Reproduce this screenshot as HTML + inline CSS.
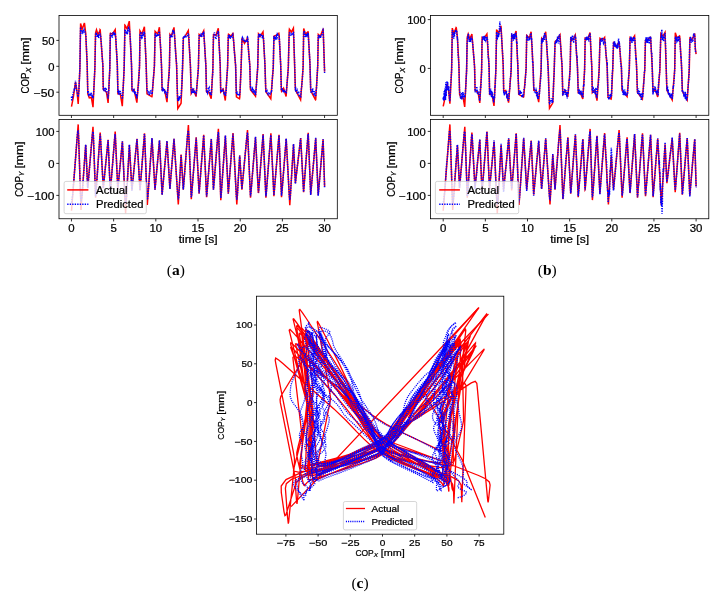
<!DOCTYPE html>
<html><head><meta charset="utf-8"><style>
html,body{margin:0;padding:0;background:#fff;width:726px;height:594px;overflow:hidden;}
body{position:relative;font-family:"Liberation Sans",sans-serif;}
svg{will-change:transform;}
text{stroke:#000;stroke-width:0.22px;}
</style></head><body>
<svg width='726' height='594' viewBox='0 0 726 594' font-family="Liberation Sans, sans-serif" style='position:absolute;left:0;top:0'>
<clipPath id='a1'><rect x='59.0' y='15.55' width='278.30' height='99.75'/></clipPath>
<clipPath id='a2'><rect x='59.0' y='119.4' width='278.30' height='99.35'/></clipPath>
<g clip-path='url(#a1)' fill='none' stroke-width='1.5'>
<path d='M71.5 106.6 L73.3 97.3 L75.5 82.2 L76.9 90.8 L78.2 103.9 L79.9 68.3 L80.6 23.5 L82.1 29.3 L84.4 23.1 L84.4 23.0 L84.5 23.3 L85.7 33.4 L87.1 62.9 L87.8 93.9 L89.3 97.8 L91.3 97.4 L91.4 97.6 L93.0 107.1 L94.9 68.2 L95.5 34.1 L95.7 32.5 L96.5 29.8 L98.1 35.0 L100.1 30.0 L100.1 29.8 L100.2 29.9 L102.8 64.5 L103.3 89.5 L104.9 90.7 L106.5 92.3 L108.1 103.0 L109.8 68.5 L110.3 33.4 L110.4 33.2 L112.4 34.1 L115.2 29.7 L117.3 64.6 L117.9 93.6 L117.9 93.8 L120.3 93.8 L122.3 106.1 L124.2 67.1 L124.9 25.5 L124.9 25.2 L125.0 25.3 L127.1 28.8 L129.3 21.1 L131.5 63.8 L132.0 90.4 L132.1 90.6 L134.0 89.7 L136.9 102.7 L139.5 67.5 L140.0 30.9 L142.0 34.1 L144.4 26.7 L146.2 65.5 L147.0 93.8 L151.9 96.8 L152.0 96.6 L154.4 66.6 L155.1 31.3 L157.7 34.1 L159.4 27.3 L161.5 65.0 L162.1 89.5 L164.5 89.7 L167.0 102.1 L169.4 67.5 L170.0 34.5 L171.2 36.1 L171.3 36.0 L174.0 27.4 L176.6 65.9 L177.8 108.5 L181.0 103.4 L181.1 102.6 L182.6 68.1 L183.4 37.8 L185.2 36.2 L188.3 30.7 L190.4 65.6 L191.2 93.5 L193.4 89.7 L196.1 96.6 L198.4 67.5 L199.2 34.4 L201.0 36.2 L203.7 30.8 L205.9 65.9 L206.5 91.5 L206.7 92.1 L208.6 91.7 L211.2 98.7 L212.9 68.0 L213.5 34.4 L213.6 34.3 L215.9 35.2 L216.1 35.1 L218.3 28.3 L220.2 64.8 L220.7 92.0 L223.2 89.2 L225.3 100.5 L227.6 66.8 L228.3 35.4 L228.5 34.3 L231.1 36.2 L232.8 33.4 L232.9 33.3 L233.0 33.5 L235.6 65.9 L236.4 96.8 L239.5 98.8 L239.8 97.1 L241.1 67.6 L242.0 38.1 L244.5 43.4 L247.4 38.1 L247.4 38.0 L247.5 38.1 L249.8 65.0 L250.4 89.1 L250.6 89.9 L255.5 96.2 L257.7 67.6 L258.5 33.9 L260.3 36.2 L263.0 31.8 L265.0 65.2 L265.8 91.5 L266.0 92.0 L270.8 98.8 L273.3 66.9 L273.9 36.5 L274.1 36.2 L276.3 35.2 L278.8 33.3 L279.1 34.8 L280.7 64.6 L281.4 90.9 L281.6 91.4 L283.6 88.2 L286.1 96.5 L288.3 67.4 L289.2 30.8 L289.4 29.2 L291.4 32.0 L293.4 28.2 L295.4 89.7 L300.6 99.8 L303.1 67.8 L303.7 28.5 L305.5 34.1 L308.0 31.8 L308.2 32.0 L310.0 65.1 L310.7 89.8 L310.9 91.0 L315.5 99.7 L315.6 99.8 L315.7 99.6 L317.7 66.9 L318.3 34.4 L320.3 36.2 L323.0 29.4 L323.1 29.3 L323.2 29.8 L324.6 71.6' stroke='#ff0000'/>
<path d='M71.5 96.6 L71.6 99.0 L71.7 99.5 L71.8 99.7 L71.9 99.6 L72.2 96.0 L72.3 95.8 L72.5 97.0 L72.6 96.8 L73.1 93.6 L73.6 91.3 L73.9 91.1 L74.2 89.9 L74.4 90.3 L74.6 90.1 L75.5 80.8 L76.8 91.3 L77.0 91.7 L77.5 93.8 L78.0 96.8 L78.1 96.9 L78.2 96.5 L78.9 90.9 L79.9 67.7 L80.4 33.2 L80.6 27.1 L81.1 32.1 L81.3 32.2 L81.6 33.2 L81.9 31.2 L82.2 30.7 L82.2 30.6 L82.3 30.8 L82.6 32.1 L82.8 31.5 L83.1 31.9 L83.4 30.5 L83.7 31.7 L84.1 29.9 L84.7 31.9 L85.2 31.9 L85.5 34.2 L85.9 35.1 L87.2 64.0 L87.8 93.3 L88.2 90.9 L88.7 94.4 L89.1 93.6 L90.0 96.1 L90.3 94.4 L90.9 95.6 L91.4 94.4 L91.6 95.2 L91.9 95.3 L92.1 96.2 L92.4 95.9 L92.6 96.4 L93.0 98.4 L93.6 93.6 L94.9 67.0 L95.6 34.2 L95.8 35.0 L95.9 34.9 L96.3 32.6 L96.8 35.8 L97.0 36.2 L97.2 36.2 L97.5 34.3 L97.9 36.5 L98.2 35.9 L98.7 38.2 L99.3 32.5 L99.8 35.3 L100.2 33.6 L100.6 35.4 L101.2 41.5 L102.2 57.2 L102.9 66.0 L103.3 88.6 L103.6 89.3 L103.9 88.0 L104.3 90.0 L104.5 89.8 L105.1 90.7 L105.7 87.9 L105.8 87.8 L105.9 87.9 L107.4 93.2 L108.0 98.6 L108.7 91.9 L109.8 69.7 L110.3 34.5 L110.6 34.6 L110.9 33.3 L111.3 36.8 L111.6 36.8 L111.9 36.2 L112.2 36.9 L112.4 36.9 L113.1 32.0 L113.5 33.5 L114.0 32.5 L114.4 33.7 L114.6 32.7 L114.7 32.6 L114.8 32.8 L115.3 34.6 L115.8 38.3 L117.3 63.8 L117.9 92.5 L118.0 92.9 L118.3 91.3 L118.4 91.1 L118.5 91.2 L119.0 94.8 L119.4 92.0 L119.6 91.2 L119.9 91.1 L120.1 90.5 L120.5 92.7 L120.6 92.4 L121.0 93.8 L121.3 93.8 L121.4 94.0 L122.3 99.1 L122.9 93.3 L124.1 70.6 L124.9 29.6 L124.9 29.4 L125.0 29.6 L125.6 32.1 L125.9 31.8 L126.0 32.0 L126.4 34.2 L127.0 31.0 L127.4 34.5 L127.7 30.8 L127.8 30.5 L128.0 30.7 L128.1 30.4 L128.5 26.5 L129.1 29.1 L129.2 29.4 L129.3 29.2 L129.4 29.3 L130.3 38.0 L131.6 67.1 L132.0 90.0 L132.2 89.9 L132.9 91.1 L133.2 89.8 L133.5 90.2 L133.9 89.6 L134.3 90.6 L134.7 93.8 L135.2 91.6 L135.6 94.6 L135.9 93.4 L136.3 96.6 L136.6 96.2 L136.9 98.3 L138.3 85.9 L138.6 84.4 L139.6 63.2 L140.0 36.1 L140.0 35.3 L140.2 35.4 L140.3 35.1 L140.8 31.7 L141.5 37.2 L141.8 36.5 L142.2 38.3 L142.8 32.5 L143.4 34.6 L143.8 33.7 L144.3 31.8 L144.4 32.2 L145.0 38.1 L146.0 61.8 L146.9 89.5 L147.0 89.9 L147.2 89.7 L147.3 89.9 L147.8 93.5 L148.1 92.3 L148.5 92.1 L148.8 90.6 L149.3 95.6 L149.6 93.6 L149.7 93.4 L150.0 93.9 L150.6 90.9 L150.8 90.9 L151.1 92.2 L151.8 93.1 L152.0 94.2 L152.2 93.0 L154.4 65.8 L155.1 34.1 L155.4 33.1 L155.9 36.9 L156.1 36.8 L156.3 35.6 L156.6 35.9 L156.7 35.8 L157.0 34.4 L157.3 36.0 L158.0 35.0 L158.4 36.3 L159.0 31.2 L159.4 32.0 L159.8 36.8 L160.0 37.7 L160.8 50.1 L161.6 70.1 L162.1 91.2 L162.2 91.5 L162.4 91.0 L162.9 87.7 L163.5 89.5 L163.8 88.6 L164.0 88.6 L164.7 91.9 L165.4 90.3 L165.9 93.4 L166.2 92.3 L167.0 98.4 L169.2 72.5 L169.5 64.0 L170.0 35.4 L170.2 34.6 L170.5 35.8 L170.9 36.3 L171.3 37.6 L171.7 36.5 L172.0 37.7 L172.5 32.3 L172.8 31.3 L173.0 31.7 L173.5 31.3 L173.8 32.2 L174.0 31.5 L174.1 31.7 L174.8 38.7 L175.7 54.4 L176.6 63.8 L177.2 87.2 L177.7 99.8 L177.8 100.7 L178.0 100.1 L178.3 101.3 L178.8 98.6 L179.1 99.2 L179.2 99.0 L179.6 96.1 L180.1 99.0 L180.7 97.1 L181.0 97.2 L181.1 95.8 L182.0 82.4 L183.3 38.2 L183.4 37.8 L183.8 38.3 L184.3 36.7 L184.5 36.7 L184.8 37.3 L185.1 36.3 L185.9 37.8 L186.5 35.5 L187.0 35.8 L187.5 35.5 L187.9 33.1 L188.1 34.0 L188.4 33.7 L188.5 33.8 L188.8 36.0 L190.5 67.6 L191.1 90.6 L191.6 92.0 L191.9 90.4 L192.2 90.7 L192.5 89.9 L193.1 92.9 L193.7 88.6 L194.2 91.4 L194.6 90.6 L195.0 92.6 L195.2 91.9 L195.3 92.0 L195.8 95.4 L196.3 92.8 L196.8 87.5 L198.4 67.7 L199.1 36.1 L199.5 34.5 L200.0 35.0 L200.4 36.5 L200.8 35.3 L201.1 36.5 L201.4 35.6 L201.7 37.4 L202.2 33.3 L202.6 34.6 L202.9 34.2 L203.1 34.5 L203.7 31.6 L205.9 66.1 L206.5 90.9 L206.9 92.5 L206.9 92.6 L207.2 92.1 L207.5 92.9 L208.5 87.8 L208.8 88.6 L209.2 87.8 L209.9 93.4 L210.0 93.6 L210.2 92.7 L210.6 94.2 L210.8 93.5 L211.2 95.7 L211.5 92.7 L212.2 79.5 L212.8 72.4 L213.4 37.8 L214.4 32.4 L215.3 35.9 L215.7 38.9 L215.9 39.1 L216.4 37.0 L216.8 36.3 L217.3 33.7 L217.4 33.5 L217.7 33.6 L217.7 33.4 L218.2 30.9 L218.4 32.1 L218.9 39.2 L220.2 64.1 L220.7 90.4 L221.0 92.2 L221.5 89.9 L221.9 92.0 L222.4 88.7 L222.9 91.4 L223.2 89.8 L223.4 90.8 L223.7 91.2 L224.2 94.7 L224.8 91.9 L224.8 91.8 L224.9 92.0 L225.4 96.1 L226.2 91.1 L226.8 78.1 L227.5 69.0 L228.2 39.4 L228.3 37.2 L228.8 34.8 L229.2 37.8 L229.6 36.9 L230.1 38.9 L230.6 36.1 L231.0 37.3 L231.2 36.5 L231.3 36.4 L231.6 36.6 L232.7 34.6 L233.2 39.2 L233.4 39.7 L233.7 41.4 L234.3 51.6 L235.6 65.0 L236.3 92.9 L236.4 93.7 L236.7 94.2 L237.3 91.5 L237.7 94.2 L237.7 94.5 L238.3 94.8 L238.5 95.5 L238.9 93.6 L239.2 94.5 L239.4 94.3 L239.6 94.6 L239.7 94.4 L240.1 90.7 L241.2 64.2 L241.9 40.4 L242.0 38.3 L242.3 37.6 L243.0 40.4 L243.5 37.8 L244.2 41.6 L244.6 41.3 L245.0 42.4 L245.4 41.6 L245.8 41.5 L246.4 39.9 L246.8 40.0 L247.1 41.7 L247.5 37.5 L247.6 37.2 L247.7 37.4 L248.5 51.0 L249.9 66.5 L250.5 88.4 L250.8 87.7 L251.5 90.8 L251.8 89.7 L252.3 88.8 L252.3 89.0 L252.9 92.7 L253.4 89.0 L253.6 90.0 L253.9 90.4 L254.4 93.0 L254.8 90.7 L255.5 95.3 L256.1 90.2 L257.7 67.6 L258.4 37.4 L258.8 34.0 L259.4 35.9 L259.7 35.5 L259.8 35.7 L260.0 37.2 L260.4 34.0 L260.6 33.9 L261.4 35.4 L261.6 35.4 L262.0 35.7 L262.4 38.2 L262.8 35.6 L263.1 35.0 L263.1 35.3 L263.6 39.2 L264.8 61.6 L265.8 91.1 L266.1 92.6 L266.3 91.3 L266.4 91.1 L266.7 91.8 L267.0 90.9 L267.8 93.6 L268.0 93.4 L268.1 93.6 L268.5 95.4 L269.0 93.0 L269.2 93.0 L269.5 92.2 L270.0 95.0 L270.5 93.1 L270.6 92.9 L270.9 93.2 L271.3 90.8 L271.5 91.2 L271.6 91.0 L272.6 74.8 L273.0 72.1 L273.2 69.3 L273.9 36.1 L274.7 38.2 L275.0 36.6 L275.5 38.2 L276.3 36.3 L276.9 39.5 L277.4 34.5 L277.7 35.1 L277.9 34.6 L278.2 36.2 L278.5 35.9 L279.0 36.2 L279.3 37.2 L280.7 65.0 L281.4 90.5 L282.1 87.8 L282.6 91.3 L283.0 90.2 L283.2 90.8 L283.6 89.2 L283.9 89.9 L284.2 92.2 L284.7 91.2 L285.0 91.1 L285.2 90.5 L285.6 93.0 L285.9 92.2 L286.2 92.5 L286.3 92.2 L288.3 68.6 L289.0 39.4 L289.3 34.5 L289.5 33.0 L290.0 33.0 L290.3 35.5 L290.6 34.6 L290.9 34.9 L291.0 34.7 L291.5 33.0 L291.8 34.2 L292.8 32.8 L293.1 33.7 L293.5 31.8 L293.8 37.6 L294.6 61.6 L295.3 88.7 L295.4 89.3 L295.7 88.5 L296.2 91.2 L296.5 91.8 L297.0 90.6 L297.3 93.1 L297.6 93.9 L298.1 91.9 L298.3 92.7 L298.6 92.2 L298.7 92.2 L299.2 96.8 L299.8 94.9 L300.2 95.7 L300.7 96.3 L301.2 89.8 L301.6 87.5 L302.4 78.9 L303.2 64.2 L303.6 33.8 L303.7 33.4 L303.8 33.8 L303.9 33.6 L304.2 30.9 L305.0 36.1 L305.2 36.0 L305.4 36.2 L305.7 35.2 L305.9 35.6 L306.3 33.8 L306.7 35.7 L306.9 35.4 L307.3 36.6 L307.7 35.3 L307.9 32.9 L308.0 32.8 L308.1 33.3 L309.9 61.4 L310.7 90.1 L311.1 93.2 L311.4 91.9 L311.7 93.0 L312.0 91.7 L312.2 92.1 L312.2 92.0 L312.7 88.3 L313.3 93.1 L313.6 94.7 L313.8 94.0 L314.1 94.4 L314.2 94.2 L314.6 91.1 L315.3 96.7 L315.8 95.1 L316.1 90.5 L316.5 88.6 L317.7 65.7 L318.1 39.9 L318.5 35.1 L319.0 36.7 L319.4 35.0 L319.9 37.7 L320.3 35.9 L320.6 38.0 L321.1 35.0 L321.4 35.5 L321.9 34.6 L322.5 34.4 L323.0 30.4 L323.1 30.0 L323.2 30.3 L324.6 72.9' stroke='#0000ff' stroke-dasharray='1.35 1.15'/>
</g>
<g clip-path='url(#a2)' fill='none' stroke-width='1.5'>
<path d='M71.5 210.8 L78.2 124.4 L81.0 210.0 L85.6 145.5 L85.7 145.0 L85.8 146.1 L87.7 188.2 L93.0 126.9 L95.6 197.6 L100.2 132.5 L103.3 188.3 L108.1 139.9 L110.3 192.0 L115.2 131.6 L117.8 189.5 L122.4 141.5 L125.6 213.3 L129.4 145.1 L131.9 190.3 L137.0 138.8 L140.0 190.5 L144.5 133.3 L147.3 205.0 L152.0 138.2 L155.0 189.6 L159.5 140.5 L162.1 194.6 L167.0 141.3 L169.9 189.0 L174.0 138.8 L178.3 204.5 L181.1 154.6 L183.3 189.6 L188.4 125.0 L191.3 199.3 L196.2 137.3 L199.1 193.7 L203.7 134.8 L206.6 197.1 L211.3 139.0 L213.4 188.2 L213.4 189.4 L213.5 189.2 L218.4 128.9 L220.8 200.1 L225.4 135.7 L228.3 193.7 L233.0 133.1 L236.8 204.5 L239.7 155.5 L241.9 189.7 L247.5 130.0 L250.5 197.8 L255.5 137.3 L258.3 192.1 L258.4 193.0 L258.5 192.6 L263.1 134.1 L265.9 197.8 L270.9 133.2 L273.9 196.2 L279.0 134.8 L281.5 197.1 L286.2 138.8 L289.8 205.1 L293.5 144.2 L295.4 183.1 L300.7 138.1 L303.6 192.1 L308.2 132.9 L310.7 194.6 L315.7 138.3 L318.2 195.2 L323.1 139.2 L324.6 186.6' stroke='#ff0000'/>
<path d='M71.5 202.7 L72.6 195.6 L77.3 135.5 L77.8 131.7 L78.1 130.4 L78.6 136.5 L80.5 194.7 L81.0 201.8 L82.2 194.6 L85.7 144.6 L87.7 188.0 L88.9 175.9 L92.1 136.7 L92.3 135.1 L93.0 131.7 L93.4 135.3 L95.6 196.3 L96.8 182.3 L100.0 135.9 L100.2 134.4 L100.6 139.3 L103.3 188.1 L108.1 140.0 L110.3 192.4 L114.6 138.9 L114.9 135.3 L115.2 134.1 L117.8 189.6 L122.4 141.3 L124.8 195.0 L125.6 203.8 L126.6 195.9 L129.4 144.6 L131.9 190.6 L137.0 139.0 L140.0 190.5 L144.4 134.1 L144.7 136.9 L146.9 195.2 L147.3 199.9 L148.1 194.7 L152.0 138.1 L155.0 189.6 L159.5 140.3 L162.1 195.0 L167.0 140.8 L169.9 189.0 L174.0 138.8 L177.7 194.8 L178.3 199.5 L178.9 195.7 L181.1 155.1 L183.3 189.5 L185.4 164.0 L187.5 135.0 L188.3 130.5 L188.8 135.0 L191.3 197.1 L191.7 195.0 L195.5 145.5 L196.2 137.8 L199.1 193.3 L203.7 135.3 L206.6 196.3 L206.9 194.6 L211.2 139.3 L211.3 139.0 L211.3 140.2 L213.4 189.6 L214.4 179.6 L217.8 135.2 L218.4 132.1 L218.7 135.3 L220.8 198.1 L221.2 195.2 L225.4 135.5 L228.3 193.5 L232.8 135.3 L233.0 133.9 L236.3 195.6 L236.8 199.6 L237.4 195.4 L239.7 155.5 L241.9 189.3 L246.9 135.7 L247.5 132.5 L247.8 135.2 L250.5 196.3 L250.7 195.2 L251.3 188.6 L255.5 136.8 L257.6 177.5 L258.5 192.4 L263.1 134.7 L265.9 196.3 L266.2 194.9 L270.5 138.5 L270.9 135.1 L273.9 195.4 L279.0 135.4 L281.5 195.7 L282.2 189.3 L286.2 138.6 L289.2 194.5 L289.8 199.9 L290.5 194.3 L293.5 144.0 L295.4 183.8 L296.4 173.9 L299.3 150.3 L300.0 142.6 L300.6 138.3 L303.6 192.0 L307.9 135.3 L308.2 133.8 L310.7 194.9 L315.7 137.9 L318.2 195.7 L323.1 139.1 L324.6 188.1' stroke='#0000ff' stroke-dasharray='1.35 1.15'/>
</g>
<rect x='59.0' y='15.55' width='278.30' height='99.75' fill='none' stroke='#000' stroke-width='0.8'/>
<rect x='59.0' y='119.4' width='278.30' height='99.35' fill='none' stroke='#000' stroke-width='0.8'/>
<line x1='71.45' y1='115.3' x2='71.45' y2='118.0' stroke='#000' stroke-width='0.8'/>
<line x1='113.63' y1='115.3' x2='113.63' y2='118.0' stroke='#000' stroke-width='0.8'/>
<line x1='155.82' y1='115.3' x2='155.82' y2='118.0' stroke='#000' stroke-width='0.8'/>
<line x1='198.00' y1='115.3' x2='198.00' y2='118.0' stroke='#000' stroke-width='0.8'/>
<line x1='240.19' y1='115.3' x2='240.19' y2='118.0' stroke='#000' stroke-width='0.8'/>
<line x1='282.38' y1='115.3' x2='282.38' y2='118.0' stroke='#000' stroke-width='0.8'/>
<line x1='324.56' y1='115.3' x2='324.56' y2='118.0' stroke='#000' stroke-width='0.8'/>
<line x1='71.45' y1='218.75' x2='71.45' y2='221.45' stroke='#000' stroke-width='0.8'/>
<text x='68.27' y='231.90' font-size='10.00' textLength='6.36' lengthAdjust='spacingAndGlyphs'>0</text>
<line x1='113.63' y1='218.75' x2='113.63' y2='221.45' stroke='#000' stroke-width='0.8'/>
<text x='110.45' y='231.90' font-size='10.00' textLength='6.36' lengthAdjust='spacingAndGlyphs'>5</text>
<line x1='155.82' y1='218.75' x2='155.82' y2='221.45' stroke='#000' stroke-width='0.8'/>
<text x='149.46' y='231.90' font-size='10.00' textLength='12.72' lengthAdjust='spacingAndGlyphs'>10</text>
<line x1='198.00' y1='218.75' x2='198.00' y2='221.45' stroke='#000' stroke-width='0.8'/>
<text x='191.64' y='231.90' font-size='10.00' textLength='12.72' lengthAdjust='spacingAndGlyphs'>15</text>
<line x1='240.19' y1='218.75' x2='240.19' y2='221.45' stroke='#000' stroke-width='0.8'/>
<text x='233.83' y='231.90' font-size='10.00' textLength='12.72' lengthAdjust='spacingAndGlyphs'>20</text>
<line x1='282.38' y1='218.75' x2='282.38' y2='221.45' stroke='#000' stroke-width='0.8'/>
<text x='276.01' y='231.90' font-size='10.00' textLength='12.72' lengthAdjust='spacingAndGlyphs'>25</text>
<line x1='324.56' y1='218.75' x2='324.56' y2='221.45' stroke='#000' stroke-width='0.8'/>
<text x='318.20' y='231.90' font-size='10.00' textLength='12.72' lengthAdjust='spacingAndGlyphs'>30</text>
<line x1='56.3' y1='40.40' x2='59.0' y2='40.40' stroke='#000' stroke-width='0.8'/>
<text x='41.93' y='44.70' font-size='10.00' textLength='12.47' lengthAdjust='spacingAndGlyphs'>50</text>
<line x1='56.3' y1='66.30' x2='59.0' y2='66.30' stroke='#000' stroke-width='0.8'/>
<text x='48.17' y='70.60' font-size='10.00' textLength='6.23' lengthAdjust='spacingAndGlyphs'>0</text>
<line x1='56.3' y1='92.20' x2='59.0' y2='92.20' stroke='#000' stroke-width='0.8'/>
<text x='33.72' y='96.50' font-size='10.00' textLength='20.68' lengthAdjust='spacingAndGlyphs'>−50</text>
<line x1='56.3' y1='131.40' x2='59.0' y2='131.40' stroke='#000' stroke-width='0.8'/>
<text x='35.70' y='135.70' font-size='10.00' textLength='18.70' lengthAdjust='spacingAndGlyphs'>100</text>
<line x1='56.3' y1='163.40' x2='59.0' y2='163.40' stroke='#000' stroke-width='0.8'/>
<text x='48.17' y='167.70' font-size='10.00' textLength='6.23' lengthAdjust='spacingAndGlyphs'>0</text>
<line x1='56.3' y1='195.40' x2='59.0' y2='195.40' stroke='#000' stroke-width='0.8'/>
<text x='27.48' y='199.70' font-size='10.00' textLength='26.92' lengthAdjust='spacingAndGlyphs'>−100</text>
<g transform='translate(29.00,65.42) rotate(-90)'>
<text x='-28.07' y='0.00' font-size='10.00' textLength='20.88' lengthAdjust='spacingAndGlyphs'>COP</text>
<text x='-7.09' y='1.70' font-size='7.00' font-style='italic' textLength='4.80' lengthAdjust='spacingAndGlyphs'>X</text>
<text x='0.79' y='0.00' font-size='10.00' textLength='27.28' lengthAdjust='spacingAndGlyphs'>[mm]</text>
</g>
<g transform='translate(22.70,169.07) rotate(-90)'>
<text x='-27.81' y='0.00' font-size='10.00' textLength='20.88' lengthAdjust='spacingAndGlyphs'>COP</text>
<text x='-6.83' y='1.70' font-size='7.00' font-style='italic' textLength='4.28' lengthAdjust='spacingAndGlyphs'>Y</text>
<text x='0.53' y='0.00' font-size='10.00' textLength='27.28' lengthAdjust='spacingAndGlyphs'>[mm]</text>
</g>
<rect x='64.1' y='181.4' width='82.2' height='32.3' rx='1.8' fill='#fff' fill-opacity='0.8' stroke='#cccccc' stroke-width='0.8'/>
<line x1='67.2' y1='189.9' x2='88.4' y2='189.9' stroke='#ff0000' stroke-width='1.5'/>
<line x1='67.2' y1='204.3' x2='88.4' y2='204.3' stroke='#0000ff' stroke-width='1.5' stroke-dasharray='1.35 1.15'/>
<text x='96.10' y='193.50' font-size='10.00' textLength='31.50' lengthAdjust='spacingAndGlyphs'>Actual</text>
<text x='96.10' y='207.90' font-size='10.00' textLength='47.34' lengthAdjust='spacingAndGlyphs'>Predicted</text>
<text x='178.76' y='242.90' font-size='10.00' textLength='38.78' lengthAdjust='spacingAndGlyphs'>time [s]</text>
<clipPath id='b1'><rect x='430.45' y='15.55' width='278.35' height='99.75'/></clipPath>
<clipPath id='b2'><rect x='430.45' y='119.4' width='278.35' height='99.35'/></clipPath>
<g clip-path='url(#b1)' fill='none' stroke-width='1.5'>
<path d='M443.2 106.4 L445.1 97.6 L447.2 83.4 L448.7 91.5 L449.9 103.8 L451.6 70.3 L452.3 28.1 L453.8 33.5 L456.1 27.7 L456.3 27.9 L457.4 37.4 L458.9 65.2 L459.6 94.4 L461.0 98.1 L463.0 97.7 L463.2 97.9 L464.7 106.9 L466.6 70.1 L467.2 38.1 L467.4 36.6 L468.2 34.0 L469.8 38.9 L471.8 34.2 L471.9 34.0 L471.9 34.1 L474.6 66.7 L475.1 90.3 L476.7 91.4 L478.2 92.9 L479.8 103.0 L481.6 70.5 L482.1 37.4 L482.1 37.3 L484.1 38.1 L486.9 33.9 L489.1 66.8 L489.6 94.1 L489.6 94.3 L492.0 94.3 L494.0 105.9 L495.9 69.2 L496.6 30.0 L496.6 29.6 L496.7 29.8 L498.8 33.1 L501.0 25.8 L503.2 66.0 L503.7 91.1 L503.8 91.3 L505.7 90.5 L508.6 102.7 L511.2 69.6 L511.7 35.1 L513.7 38.0 L516.1 31.1 L517.9 67.7 L518.7 94.3 L523.5 97.1 L523.7 96.9 L526.1 68.7 L526.7 35.4 L529.4 38.0 L531.1 31.7 L533.1 67.2 L533.8 90.3 L536.2 90.4 L538.7 102.1 L541.1 69.5 L541.7 38.4 L542.8 39.9 L543.0 39.9 L545.7 31.7 L548.2 68.1 L549.5 108.2 L552.6 103.3 L552.8 102.6 L554.2 70.1 L555.1 41.6 L556.8 40.0 L560.0 34.9 L562.1 67.7 L562.8 94.0 L565.1 90.5 L567.8 97.0 L570.1 69.6 L570.8 38.3 L572.7 40.0 L575.3 34.9 L577.5 68.0 L578.2 92.2 L578.3 92.8 L580.2 92.4 L582.8 98.9 L584.6 70.0 L585.2 38.3 L585.2 38.2 L587.5 39.1 L587.7 39.0 L590.0 32.6 L591.8 67.0 L592.3 92.6 L594.9 90.0 L597.0 100.6 L599.2 68.8 L600.0 38.3 L602.7 40.0 L604.5 37.4 L604.6 37.3 L604.6 37.5 L607.2 68.0 L608.0 97.2 L611.1 99.0 L611.4 97.4 L612.7 69.6 L613.6 41.8 L616.1 46.8 L619.0 41.9 L619.0 41.7 L619.1 41.9 L621.4 67.2 L622.0 89.9 L622.2 90.6 L627.1 96.6 L629.3 69.6 L630.1 37.9 L631.9 40.0 L634.6 35.9 L636.6 67.3 L637.4 92.1 L637.6 92.6 L642.4 99.0 L644.8 69.0 L645.4 41.7 L645.6 40.0 L647.8 39.1 L650.4 37.3 L650.6 37.6 L652.3 68.7 L653.0 91.6 L653.2 92.0 L655.1 89.0 L657.7 96.9 L659.9 69.4 L660.8 35.0 L660.9 33.5 L663.0 36.1 L665.0 32.5 L666.9 90.4 L672.2 99.9 L674.7 69.8 L675.3 32.7 L677.0 38.1 L679.6 35.9 L679.7 36.1 L681.6 67.2 L682.4 91.4 L687.2 99.9 L689.3 68.9 L689.9 38.3 L691.8 40.0 L694.7 33.5 L695.3 48.1 L696.1 54.2' stroke='#ff0000'/>
<path d='M443.2 97.6 L443.3 99.9 L443.5 97.0 L443.6 97.4 L443.9 100.8 L444.1 91.3 L444.4 96.5 L444.5 94.5 L444.6 95.0 L444.7 94.8 L444.9 88.4 L445.1 98.1 L445.3 94.0 L445.5 100.0 L445.6 86.2 L445.9 82.0 L446.2 96.2 L446.3 87.2 L446.6 84.3 L446.8 90.1 L447.1 81.1 L447.3 83.9 L447.7 82.1 L447.9 88.1 L448.0 88.6 L448.2 87.7 L448.3 90.7 L448.7 86.2 L448.9 93.4 L449.2 94.5 L449.7 101.4 L450.2 96.9 L450.4 88.9 L450.8 83.3 L451.0 82.0 L451.7 69.0 L452.3 30.5 L452.4 30.1 L452.5 30.7 L452.7 33.8 L453.1 32.0 L453.7 38.8 L454.1 34.0 L454.4 36.4 L454.7 33.6 L454.7 33.1 L454.9 33.1 L455.1 31.9 L455.3 32.4 L455.5 30.0 L455.8 32.4 L455.9 31.3 L456.1 32.1 L456.4 30.5 L456.5 30.5 L456.6 30.2 L456.7 30.4 L457.2 38.3 L457.3 38.6 L457.5 37.7 L458.1 54.3 L458.3 56.8 L458.5 57.6 L458.8 66.1 L459.0 68.8 L459.5 91.0 L459.7 91.7 L459.9 93.9 L460.5 97.3 L460.7 97.0 L461.1 97.5 L461.2 97.2 L461.4 92.5 L461.8 99.5 L462.2 95.4 L462.4 96.1 L462.6 95.6 L462.8 92.0 L463.1 95.9 L463.3 92.9 L463.6 97.0 L463.9 95.9 L464.1 99.3 L464.5 96.8 L464.8 97.5 L465.3 94.4 L466.0 83.1 L466.6 70.6 L467.1 42.0 L467.4 41.0 L467.8 36.0 L468.1 38.9 L468.4 33.4 L469.0 40.9 L469.2 40.5 L469.4 41.8 L469.7 38.8 L469.9 40.7 L470.3 39.5 L470.5 42.1 L470.9 37.5 L470.9 37.2 L471.2 39.9 L471.5 36.5 L471.7 39.1 L471.8 39.6 L471.9 38.8 L472.2 39.7 L473.0 46.6 L473.7 56.3 L474.1 59.6 L474.6 68.8 L475.1 92.3 L475.3 90.4 L475.5 91.9 L475.7 90.2 L476.0 91.2 L476.3 90.0 L476.8 86.4 L477.3 92.9 L477.4 93.0 L477.7 91.6 L478.2 92.5 L478.4 94.5 L479.0 91.9 L479.3 98.6 L479.4 99.5 L479.5 98.7 L479.7 100.7 L480.0 96.2 L480.0 95.9 L480.1 96.3 L480.2 95.8 L480.5 86.9 L480.6 86.6 L480.8 87.9 L480.9 86.7 L481.6 71.6 L482.0 42.0 L482.4 40.3 L482.7 36.5 L483.0 38.4 L483.3 37.6 L483.5 36.4 L483.7 39.7 L484.0 38.3 L484.2 40.2 L484.5 35.3 L484.8 40.9 L485.0 36.6 L485.8 40.3 L486.1 39.5 L486.4 36.5 L486.8 39.6 L487.3 36.8 L487.9 46.4 L488.2 57.9 L488.3 58.2 L488.5 57.9 L488.6 59.1 L489.1 68.9 L489.5 89.0 L489.7 94.5 L490.2 89.6 L490.5 96.3 L490.9 88.7 L491.3 93.0 L491.5 90.8 L491.6 91.3 L491.8 97.2 L492.3 92.2 L492.6 94.0 L492.9 98.0 L493.1 97.5 L493.7 102.5 L494.1 97.4 L494.2 97.2 L494.4 98.7 L494.5 98.2 L494.9 87.8 L495.0 86.5 L495.1 86.9 L495.2 86.5 L495.3 84.9 L495.9 69.1 L496.6 32.5 L496.8 31.9 L496.9 32.8 L497.2 39.7 L498.0 33.0 L498.2 36.2 L498.3 36.3 L498.5 35.6 L498.7 35.7 L498.9 33.9 L499.0 34.0 L499.1 33.7 L499.9 21.6 L500.4 31.7 L500.7 27.5 L500.9 30.6 L501.2 31.4 L503.2 62.6 L503.7 92.9 L504.0 91.8 L504.3 95.4 L504.7 91.8 L504.8 92.4 L505.0 92.3 L505.2 93.4 L505.7 93.0 L506.1 93.6 L506.4 90.7 L506.9 98.4 L507.3 93.8 L507.5 96.2 L507.8 95.6 L508.1 100.8 L508.5 97.6 L508.9 99.1 L509.1 94.3 L509.5 89.5 L509.8 88.4 L510.3 78.9 L510.6 77.3 L511.1 69.2 L511.2 68.8 L511.7 33.3 L512.4 38.0 L512.8 34.3 L512.9 34.6 L513.3 40.7 L513.7 34.0 L514.1 39.3 L514.4 33.9 L514.8 39.6 L515.3 34.4 L515.4 35.2 L515.7 32.8 L515.8 33.1 L516.0 35.9 L516.0 36.4 L516.2 35.8 L516.5 38.0 L516.7 43.5 L516.9 42.9 L517.0 43.2 L517.4 57.2 L517.8 63.9 L518.1 77.6 L519.1 95.0 L519.3 92.4 L519.8 93.7 L520.2 90.4 L520.4 93.9 L520.8 91.8 L521.2 93.7 L521.4 91.7 L521.9 95.8 L522.3 95.4 L522.4 96.2 L522.7 94.8 L522.9 97.1 L523.2 93.8 L523.3 93.5 L523.5 93.9 L523.7 94.5 L524.1 88.2 L524.5 87.5 L524.9 86.0 L525.8 73.2 L526.2 66.7 L526.7 34.7 L527.1 39.9 L527.2 39.9 L527.3 39.5 L527.5 37.6 L527.6 37.4 L527.8 38.5 L528.0 37.6 L528.8 41.1 L529.4 37.8 L529.6 39.8 L529.8 38.0 L529.9 37.8 L529.9 38.1 L530.0 37.9 L530.6 33.2 L530.9 34.5 L531.0 34.4 L531.3 38.7 L531.4 38.9 L531.5 37.9 L532.0 46.5 L532.1 46.9 L532.1 46.6 L532.2 46.9 L532.6 62.2 L532.7 62.7 L532.9 62.0 L533.2 68.8 L533.8 89.1 L534.0 89.4 L534.2 89.3 L534.6 92.3 L534.8 91.0 L535.0 92.4 L535.3 91.6 L535.4 91.8 L535.7 93.9 L536.1 87.7 L536.5 94.7 L536.6 95.3 L536.9 95.7 L537.2 91.8 L537.7 99.0 L538.0 95.8 L538.3 98.3 L538.4 98.7 L538.5 98.3 L539.0 95.3 L539.2 91.4 L539.5 93.6 L539.8 86.8 L540.1 85.5 L540.7 78.0 L541.2 69.6 L541.6 38.7 L541.9 43.2 L542.5 38.0 L542.9 42.3 L543.4 36.5 L543.7 38.2 L543.9 37.1 L544.0 37.2 L544.3 39.9 L544.6 33.1 L544.9 36.0 L545.1 33.4 L545.6 37.3 L545.8 36.7 L546.6 41.4 L547.7 60.7 L548.0 68.2 L548.1 68.9 L548.2 68.1 L548.7 87.3 L549.4 103.6 L549.6 102.6 L549.8 103.3 L550.0 102.9 L550.4 99.7 L550.7 100.5 L550.8 100.7 L550.9 100.5 L551.2 98.3 L551.4 99.8 L551.9 100.8 L552.1 103.0 L552.4 99.8 L552.6 102.4 L552.7 102.8 L552.8 102.3 L553.4 91.3 L553.7 80.3 L554.2 74.0 L554.6 56.1 L555.1 42.5 L555.3 42.9 L555.6 42.3 L555.7 43.1 L556.1 40.9 L556.3 43.1 L556.5 40.5 L556.8 39.2 L557.1 42.3 L557.6 36.5 L557.8 39.6 L558.1 38.3 L558.2 38.9 L558.4 43.4 L558.8 37.3 L559.1 36.4 L559.2 36.6 L559.3 36.4 L559.6 34.0 L560.2 42.9 L560.8 47.2 L561.1 54.3 L562.1 65.3 L562.7 95.6 L563.4 92.1 L563.7 94.3 L564.3 90.2 L564.5 89.3 L564.8 90.9 L564.9 90.1 L565.0 90.2 L565.5 94.9 L565.9 90.1 L566.1 93.4 L566.2 93.6 L566.3 93.4 L566.4 93.5 L566.6 94.6 L566.9 93.8 L567.0 94.4 L567.3 98.4 L567.5 92.3 L567.9 94.1 L568.0 94.3 L568.0 94.2 L569.3 79.2 L569.4 79.1 L569.5 79.7 L569.6 79.6 L569.9 70.1 L570.2 68.1 L570.7 37.1 L570.9 37.9 L571.2 36.6 L571.5 40.2 L571.8 39.8 L572.0 37.6 L572.3 39.2 L572.5 35.2 L573.3 38.5 L573.7 43.0 L574.0 38.0 L574.3 39.3 L574.5 38.6 L575.0 34.8 L575.2 35.5 L575.5 38.3 L575.6 38.6 L575.7 37.7 L575.8 38.5 L576.6 56.0 L576.8 57.4 L576.9 57.6 L577.1 57.4 L577.2 60.1 L578.2 90.5 L578.2 90.8 L578.3 90.7 L578.8 93.9 L579.2 90.9 L579.3 90.5 L579.6 91.1 L579.9 94.7 L580.4 90.3 L580.9 91.2 L581.5 95.0 L581.8 91.9 L582.0 95.8 L582.1 96.0 L582.3 94.6 L582.5 97.3 L582.7 96.4 L582.9 97.1 L583.0 96.5 L583.6 85.2 L583.6 84.7 L583.8 86.2 L584.0 83.8 L584.6 69.4 L585.2 39.0 L585.5 38.9 L585.8 38.3 L586.0 37.0 L586.3 38.9 L586.4 39.1 L586.6 38.6 L586.8 39.9 L587.3 37.3 L587.5 38.6 L587.9 39.2 L588.1 36.3 L588.8 41.5 L589.0 37.3 L589.5 35.1 L589.7 36.7 L590.1 33.0 L590.4 36.0 L590.8 49.2 L591.7 64.9 L592.2 90.6 L592.4 89.8 L592.9 92.9 L593.3 88.2 L593.6 88.7 L593.8 90.8 L594.2 91.3 L594.4 92.6 L594.7 88.6 L595.1 94.1 L596.0 87.7 L596.4 97.4 L596.6 96.0 L596.9 96.6 L597.2 94.5 L597.6 87.2 L597.7 86.9 L597.9 87.0 L598.1 86.3 L598.2 86.4 L598.3 85.9 L598.6 80.0 L598.8 78.6 L599.9 42.8 L600.0 42.7 L600.2 43.1 L600.5 39.0 L600.8 41.2 L600.9 40.3 L601.1 41.4 L601.3 40.5 L601.6 42.4 L602.0 39.9 L602.2 37.4 L602.5 41.2 L602.8 39.8 L602.9 41.4 L603.5 43.3 L603.6 43.0 L603.8 43.3 L604.1 41.9 L604.5 38.3 L605.0 42.5 L605.2 41.6 L605.3 42.2 L606.2 57.5 L606.6 58.1 L607.0 64.3 L607.1 64.5 L607.2 64.4 L607.2 65.1 L607.9 93.7 L608.4 98.6 L608.7 98.1 L608.9 99.4 L609.2 96.6 L609.3 96.1 L609.4 96.2 L609.7 94.1 L610.0 98.1 L610.3 95.4 L610.5 97.2 L610.8 94.1 L611.3 96.0 L611.5 95.1 L612.2 74.7 L612.8 68.2 L613.4 43.7 L613.5 42.4 L613.9 45.1 L614.1 43.6 L614.2 43.9 L614.5 40.9 L614.9 46.9 L615.4 42.7 L615.7 46.6 L615.9 44.9 L616.2 46.8 L616.6 47.9 L616.9 44.8 L617.3 48.7 L617.7 44.0 L618.0 47.8 L618.5 39.0 L618.5 38.8 L618.6 39.1 L619.0 43.2 L619.0 43.4 L619.3 42.0 L620.1 50.0 L620.5 61.4 L621.2 67.4 L621.4 66.0 L622.1 87.5 L622.2 88.7 L622.4 86.7 L622.5 87.1 L622.8 94.1 L622.8 94.6 L623.3 90.2 L623.9 95.1 L624.1 93.1 L624.3 94.2 L624.7 89.6 L625.2 91.9 L625.5 95.4 L625.8 93.6 L625.9 93.5 L626.0 93.7 L626.1 93.3 L626.7 96.1 L627.3 93.7 L627.6 94.0 L627.6 93.1 L628.2 83.7 L629.3 68.6 L630.1 37.9 L630.4 41.1 L630.8 36.5 L630.9 38.3 L631.2 37.0 L631.9 42.8 L632.5 38.6 L632.7 38.8 L632.9 38.6 L633.2 41.2 L633.6 36.7 L634.0 39.3 L634.1 37.2 L634.4 40.8 L634.6 38.1 L635.0 40.7 L635.7 56.8 L636.0 59.1 L636.2 58.5 L636.3 59.9 L637.3 88.1 L637.7 93.4 L637.8 93.9 L638.2 91.6 L638.4 88.5 L638.8 94.6 L639.4 91.1 L639.9 96.2 L640.1 93.6 L640.5 95.9 L640.9 93.8 L641.3 100.4 L641.8 94.4 L641.9 94.2 L642.0 94.6 L642.2 97.7 L642.5 95.5 L642.7 96.8 L642.7 96.5 L643.2 92.3 L643.7 82.9 L643.7 81.7 L643.9 82.3 L644.0 81.7 L644.4 71.4 L644.5 71.1 L644.6 71.3 L644.7 71.0 L644.8 68.6 L645.4 40.9 L645.5 40.1 L645.8 41.3 L646.1 37.2 L646.4 42.4 L646.7 43.0 L647.1 37.3 L647.7 43.0 L648.0 38.6 L648.4 40.0 L648.6 39.4 L648.7 39.9 L649.0 37.6 L649.3 43.9 L649.7 37.8 L650.2 36.6 L650.2 36.5 L650.3 36.7 L650.5 37.6 L650.7 36.7 L651.4 52.8 L651.5 53.4 L651.8 52.3 L651.8 53.0 L653.0 94.4 L653.4 88.7 L653.8 91.9 L654.0 89.5 L654.3 88.3 L654.5 86.7 L654.5 86.5 L654.7 86.9 L655.0 86.2 L655.3 89.8 L655.5 88.2 L655.7 91.4 L655.9 91.3 L656.1 91.9 L656.2 91.1 L656.6 92.4 L656.9 91.3 L657.1 91.8 L657.3 90.1 L658.1 95.6 L658.6 82.9 L659.1 79.2 L659.3 75.1 L659.6 74.2 L660.6 40.8 L661.1 35.9 L661.2 35.5 L661.4 36.0 L661.5 35.4 L661.8 29.4 L662.2 39.3 L662.3 39.7 L662.5 38.3 L662.8 39.6 L663.1 36.1 L663.6 41.5 L663.9 36.9 L664.2 38.0 L664.6 34.2 L664.9 34.1 L665.1 33.0 L665.8 50.9 L666.8 89.0 L667.2 90.7 L667.5 86.4 L667.9 91.9 L668.2 89.8 L668.4 94.8 L669.0 93.1 L669.3 95.3 L669.5 92.3 L670.1 97.7 L670.4 94.4 L670.6 98.2 L670.9 95.0 L671.2 96.0 L671.6 93.3 L672.2 98.9 L672.2 99.1 L672.3 98.9 L672.8 93.2 L673.2 86.4 L673.4 87.6 L674.3 77.9 L674.8 67.7 L675.2 39.7 L675.6 36.5 L676.0 40.2 L676.2 37.9 L676.6 39.6 L676.8 39.0 L677.0 41.3 L677.2 40.9 L677.4 41.4 L677.7 36.5 L677.9 37.7 L678.1 37.9 L678.6 41.3 L679.0 36.4 L679.2 38.0 L679.3 37.3 L679.4 37.4 L679.9 39.9 L680.9 57.7 L681.1 57.2 L681.3 59.3 L682.3 92.1 L682.5 91.0 L682.9 92.2 L683.1 90.8 L683.5 94.3 L683.6 94.1 L683.8 95.0 L684.0 94.5 L684.1 95.7 L684.4 94.9 L684.6 94.9 L684.8 97.2 L685.1 91.6 L685.4 99.3 L685.8 93.6 L686.5 100.9 L686.7 97.8 L686.9 97.7 L687.2 98.7 L687.2 98.1 L689.0 74.7 L689.7 44.0 L690.1 38.8 L690.4 41.4 L690.6 37.9 L690.8 38.1 L691.0 37.5 L691.5 42.3 L691.8 42.6 L692.0 41.5 L692.2 41.2 L692.4 39.6 L692.6 40.1 L692.8 40.0 L693.0 40.3 L693.1 40.1 L693.5 35.0 L693.6 34.8 L694.0 36.3 L694.4 33.6 L695.0 39.5 L695.3 50.7 L696.1 53.3' stroke='#0000ff' stroke-dasharray='1.35 1.15'/>
</g>
<g clip-path='url(#b2)' fill='none' stroke-width='1.5'>
<path d='M443.2 210.8 L449.9 124.4 L452.7 210.0 L457.4 145.5 L457.4 145.0 L457.5 146.1 L459.5 188.2 L464.8 126.9 L467.3 197.6 L471.9 132.5 L475.0 188.3 L479.8 139.9 L482.0 192.0 L487.0 131.6 L489.5 189.5 L494.1 141.5 L497.3 213.3 L501.1 145.1 L503.6 190.3 L508.7 138.8 L511.7 190.5 L516.2 133.3 L519.0 205.0 L523.7 138.2 L526.7 189.6 L531.2 140.5 L533.7 194.6 L538.7 141.3 L541.6 189.0 L545.7 138.8 L550.0 204.5 L552.8 154.6 L555.0 189.6 L560.0 125.0 L562.9 199.3 L567.9 137.3 L570.7 193.7 L575.4 134.8 L578.2 197.1 L582.9 139.0 L585.0 188.2 L585.1 189.4 L585.2 189.2 L590.1 128.9 L592.4 200.1 L597.0 135.7 L599.9 193.7 L604.6 133.1 L608.4 204.5 L611.3 155.5 L613.5 189.7 L619.1 130.0 L622.1 197.8 L627.1 137.3 L629.9 192.1 L630.0 193.0 L630.1 192.6 L634.6 134.1 L637.5 197.8 L642.5 133.2 L645.5 196.2 L650.6 134.8 L653.1 197.1 L657.7 138.8 L661.4 205.1 L665.1 144.2 L666.9 183.1 L672.2 138.1 L675.2 192.1 L679.7 132.9 L682.3 194.6 L687.2 138.3 L689.8 195.2 L694.7 139.2 L696.1 186.6' stroke='#ff0000'/>
<path d='M443.2 202.0 L443.7 201.0 L445.0 189.3 L446.7 163.0 L447.2 159.8 L449.3 132.9 L449.4 131.6 L449.9 130.6 L450.4 136.9 L452.2 195.7 L452.7 202.7 L453.1 201.6 L453.5 197.8 L453.9 195.8 L454.8 180.0 L457.4 144.7 L459.6 187.6 L460.0 181.2 L460.4 179.1 L460.9 171.5 L461.5 167.0 L462.2 156.6 L464.0 134.6 L464.3 132.7 L464.8 131.4 L465.5 145.9 L467.3 196.3 L467.8 193.4 L469.6 165.7 L471.0 146.7 L471.4 138.3 L471.9 134.2 L472.2 136.0 L475.0 189.1 L475.9 178.3 L476.3 177.1 L476.7 174.1 L477.6 160.5 L478.8 150.2 L479.8 139.2 L482.0 191.6 L482.8 181.8 L483.2 178.9 L484.9 154.8 L486.9 131.6 L487.5 142.7 L488.0 156.3 L489.5 189.1 L490.5 178.1 L490.8 176.1 L491.3 169.1 L491.8 165.8 L493.3 147.7 L493.7 146.0 L494.1 140.4 L496.1 187.8 L496.6 197.3 L497.3 204.5 L498.3 196.2 L501.1 143.9 L503.6 192.1 L504.6 180.0 L505.8 168.0 L506.1 166.8 L508.0 143.3 L508.7 138.1 L510.2 166.7 L511.7 188.8 L514.0 162.0 L516.0 135.0 L516.2 133.6 L518.6 197.0 L519.0 202.3 L519.2 201.0 L520.0 192.1 L522.6 151.7 L523.7 137.8 L526.7 190.9 L528.8 166.7 L529.9 153.4 L531.2 141.1 L533.7 195.8 L535.2 178.3 L535.9 172.1 L536.6 162.1 L537.6 153.6 L538.7 140.6 L541.6 189.0 L542.6 179.3 L543.1 170.9 L545.7 138.4 L549.4 195.9 L549.7 198.2 L550.0 198.8 L550.6 193.5 L551.1 183.3 L551.5 178.7 L552.8 154.0 L555.0 189.2 L556.6 168.7 L557.0 165.4 L557.5 157.3 L557.8 154.9 L558.7 140.7 L560.0 129.9 L560.5 136.5 L562.9 198.9 L563.3 197.0 L563.7 188.5 L564.3 183.2 L564.8 174.5 L566.1 157.2 L566.6 153.9 L567.8 138.0 L570.7 193.2 L571.3 188.2 L573.9 151.0 L574.4 147.5 L575.4 134.2 L576.6 162.4 L578.2 195.3 L578.3 196.2 L581.5 158.3 L582.4 143.5 L582.8 139.3 L583.8 159.2 L585.1 190.2 L585.5 183.3 L586.4 174.0 L589.5 134.6 L589.7 133.9 L590.1 131.2 L590.3 134.5 L592.3 197.3 L592.9 194.1 L594.1 175.7 L595.4 158.8 L596.5 140.5 L597.0 136.2 L599.9 194.1 L604.3 136.1 L604.7 134.3 L606.0 157.6 L606.6 161.9 L607.1 183.7 L607.2 182.7 L607.3 182.9 L607.5 189.8 L607.6 191.4 L607.7 190.8 L607.8 191.2 L608.2 202.5 L608.5 194.4 L608.8 196.7 L608.9 191.9 L609.1 192.3 L609.3 189.9 L609.5 194.8 L610.1 170.1 L610.2 169.5 L610.4 171.5 L610.5 170.0 L611.3 147.7 L611.8 155.5 L612.2 169.5 L613.5 190.5 L614.7 177.3 L615.2 174.1 L615.8 165.1 L616.5 158.1 L618.2 138.2 L618.7 133.6 L619.1 132.7 L619.4 134.8 L619.9 145.6 L622.1 195.6 L622.5 193.9 L625.5 157.0 L626.7 140.3 L627.1 138.7 L630.0 192.8 L630.7 185.1 L631.1 176.9 L631.7 172.2 L634.6 134.1 L637.5 197.2 L637.8 195.7 L638.3 186.9 L638.9 182.7 L641.7 141.0 L642.3 135.4 L642.5 135.4 L642.6 135.9 L642.9 141.4 L645.1 187.7 L645.6 195.3 L647.8 169.6 L649.9 141.4 L650.6 134.9 L653.1 196.2 L654.7 178.9 L656.1 157.7 L657.0 149.3 L657.7 138.4 L658.1 145.4 L658.3 146.9 L659.1 163.7 L659.2 164.5 L659.3 160.2 L659.4 161.0 L659.7 173.6 L659.9 171.8 L660.3 190.6 L660.4 184.6 L660.5 186.2 L660.8 203.5 L661.1 196.1 L661.5 206.0 L661.7 200.6 L662.0 213.7 L662.4 201.7 L662.6 183.1 L663.0 179.6 L663.2 169.3 L663.3 169.0 L663.5 171.4 L663.6 170.7 L663.8 162.6 L665.1 142.3 L666.3 172.4 L666.8 181.9 L668.4 171.8 L668.8 166.3 L669.3 163.6 L669.7 158.4 L671.7 142.9 L672.2 137.4 L674.7 185.5 L675.3 190.2 L676.4 177.7 L679.5 135.3 L679.7 133.9 L682.4 194.4 L684.8 166.8 L685.9 152.0 L687.2 138.1 L689.8 196.6 L692.6 161.8 L694.8 139.1 L696.1 187.8' stroke='#0000ff' stroke-dasharray='1.35 1.15'/>
</g>
<rect x='430.45' y='15.55' width='278.35' height='99.75' fill='none' stroke='#000' stroke-width='0.8'/>
<rect x='430.45' y='119.4' width='278.35' height='99.35' fill='none' stroke='#000' stroke-width='0.8'/>
<line x1='443.20' y1='115.3' x2='443.20' y2='118.0' stroke='#000' stroke-width='0.8'/>
<line x1='485.35' y1='115.3' x2='485.35' y2='118.0' stroke='#000' stroke-width='0.8'/>
<line x1='527.50' y1='115.3' x2='527.50' y2='118.0' stroke='#000' stroke-width='0.8'/>
<line x1='569.65' y1='115.3' x2='569.65' y2='118.0' stroke='#000' stroke-width='0.8'/>
<line x1='611.80' y1='115.3' x2='611.80' y2='118.0' stroke='#000' stroke-width='0.8'/>
<line x1='653.95' y1='115.3' x2='653.95' y2='118.0' stroke='#000' stroke-width='0.8'/>
<line x1='696.10' y1='115.3' x2='696.10' y2='118.0' stroke='#000' stroke-width='0.8'/>
<line x1='443.20' y1='218.75' x2='443.20' y2='221.45' stroke='#000' stroke-width='0.8'/>
<text x='440.02' y='231.90' font-size='10.00' textLength='6.36' lengthAdjust='spacingAndGlyphs'>0</text>
<line x1='485.35' y1='218.75' x2='485.35' y2='221.45' stroke='#000' stroke-width='0.8'/>
<text x='482.17' y='231.90' font-size='10.00' textLength='6.36' lengthAdjust='spacingAndGlyphs'>5</text>
<line x1='527.50' y1='218.75' x2='527.50' y2='221.45' stroke='#000' stroke-width='0.8'/>
<text x='521.14' y='231.90' font-size='10.00' textLength='12.72' lengthAdjust='spacingAndGlyphs'>10</text>
<line x1='569.65' y1='218.75' x2='569.65' y2='221.45' stroke='#000' stroke-width='0.8'/>
<text x='563.29' y='231.90' font-size='10.00' textLength='12.72' lengthAdjust='spacingAndGlyphs'>15</text>
<line x1='611.80' y1='218.75' x2='611.80' y2='221.45' stroke='#000' stroke-width='0.8'/>
<text x='605.44' y='231.90' font-size='10.00' textLength='12.72' lengthAdjust='spacingAndGlyphs'>20</text>
<line x1='653.95' y1='218.75' x2='653.95' y2='221.45' stroke='#000' stroke-width='0.8'/>
<text x='647.59' y='231.90' font-size='10.00' textLength='12.72' lengthAdjust='spacingAndGlyphs'>25</text>
<line x1='696.10' y1='218.75' x2='696.10' y2='221.45' stroke='#000' stroke-width='0.8'/>
<text x='689.74' y='231.90' font-size='10.00' textLength='12.72' lengthAdjust='spacingAndGlyphs'>30</text>
<line x1='427.75' y1='19.60' x2='430.45' y2='19.60' stroke='#000' stroke-width='0.8'/>
<text x='407.15' y='23.90' font-size='10.00' textLength='18.70' lengthAdjust='spacingAndGlyphs'>100</text>
<line x1='427.75' y1='68.40' x2='430.45' y2='68.40' stroke='#000' stroke-width='0.8'/>
<text x='419.62' y='72.70' font-size='10.00' textLength='6.23' lengthAdjust='spacingAndGlyphs'>0</text>
<line x1='427.75' y1='131.40' x2='430.45' y2='131.40' stroke='#000' stroke-width='0.8'/>
<text x='407.15' y='135.70' font-size='10.00' textLength='18.70' lengthAdjust='spacingAndGlyphs'>100</text>
<line x1='427.75' y1='163.40' x2='430.45' y2='163.40' stroke='#000' stroke-width='0.8'/>
<text x='419.62' y='167.70' font-size='10.00' textLength='6.23' lengthAdjust='spacingAndGlyphs'>0</text>
<line x1='427.75' y1='195.40' x2='430.45' y2='195.40' stroke='#000' stroke-width='0.8'/>
<text x='398.93' y='199.70' font-size='10.00' textLength='26.92' lengthAdjust='spacingAndGlyphs'>−100</text>
<g transform='translate(402.80,65.42) rotate(-90)'>
<text x='-28.07' y='0.00' font-size='10.00' textLength='20.88' lengthAdjust='spacingAndGlyphs'>COP</text>
<text x='-7.09' y='1.70' font-size='7.00' font-style='italic' textLength='4.80' lengthAdjust='spacingAndGlyphs'>X</text>
<text x='0.79' y='0.00' font-size='10.00' textLength='27.28' lengthAdjust='spacingAndGlyphs'>[mm]</text>
</g>
<g transform='translate(394.50,169.07) rotate(-90)'>
<text x='-27.81' y='0.00' font-size='10.00' textLength='20.88' lengthAdjust='spacingAndGlyphs'>COP</text>
<text x='-6.83' y='1.70' font-size='7.00' font-style='italic' textLength='4.28' lengthAdjust='spacingAndGlyphs'>Y</text>
<text x='0.53' y='0.00' font-size='10.00' textLength='27.28' lengthAdjust='spacingAndGlyphs'>[mm]</text>
</g>
<rect x='435.4' y='181.4' width='83.3' height='32.3' rx='1.8' fill='#fff' fill-opacity='0.8' stroke='#cccccc' stroke-width='0.8'/>
<line x1='439.2' y1='189.9' x2='459.9' y2='189.9' stroke='#ff0000' stroke-width='1.5'/>
<line x1='439.2' y1='204.3' x2='459.9' y2='204.3' stroke='#0000ff' stroke-width='1.5' stroke-dasharray='1.35 1.15'/>
<text x='467.50' y='193.50' font-size='10.00' textLength='31.50' lengthAdjust='spacingAndGlyphs'>Actual</text>
<text x='467.50' y='207.90' font-size='10.00' textLength='47.34' lengthAdjust='spacingAndGlyphs'>Predicted</text>
<text x='550.23' y='242.90' font-size='10.00' textLength='38.78' lengthAdjust='spacingAndGlyphs'>time [s]</text>
<clipPath id='c'><rect x='256.4' y='296.2' width='247.40' height='238.00'/></clipPath>
<g clip-path='url(#c)' fill='none' stroke-width='1.3'>
<path d='M485.3 517.5 L462.1 459.8 L441.6 422.5 L424.9 393.3 L423.9 390.6 L424.3 388.0 L425.5 385.3 L444.5 348.1 L445.9 345.5 L447.6 342.8 L449.8 340.2 L475.7 310.9 L477.9 308.5 L478.5 308.1 L457.9 337.8 L435.1 370.0 L425.7 382.9 L406.4 408.7 L387.6 434.5 L380.1 440.9 L366.9 447.3 L351.7 453.8 L335.5 460.2 L299.9 473.1 L286.0 479.6 L281.2 486.0 L281.3 492.5 L284.0 511.6 L284.9 515.7 L285.8 515.1 L295.0 486.4 L295.6 483.5 L295.7 480.6 L294.7 474.8 L280.9 405.3 L280.3 402.4 L280.1 399.5 L280.8 396.6 L282.3 393.7 L301.7 361.8 L303.5 359.1 L305.9 358.1 L309.6 360.7 L313.9 365.1 L331.1 383.2 L339.4 392.3 L347.2 401.3 L362.0 419.4 L370.0 428.5 L374.2 433.0 L378.8 437.5 L385.6 442.0 L397.0 446.6 L439.4 460.0 L449.8 462.8 L453.6 462.1 L454.5 459.8 L462.5 425.9 L463.5 421.0 L463.5 416.1 L462.4 362.8 L462.5 360.3 L463.0 357.9 L465.4 353.1 L486.6 314.4 L486.5 314.1 L483.5 317.9 L434.3 382.3 L425.0 394.0 L405.8 417.5 L387.2 441.0 L380.4 446.9 L369.0 452.7 L343.6 464.5 L316.6 476.2 L307.7 481.9 L304.5 485.5 L303.6 484.8 L298.0 461.4 L296.8 455.5 L296.8 452.6 L298.1 446.7 L309.4 402.4 L309.9 399.5 L309.8 396.5 L297.3 331.7 L296.9 328.9 L297.1 327.6 L299.1 329.8 L310.2 345.1 L326.9 368.2 L337.8 383.7 L345.4 395.2 L362.2 422.2 L370.0 433.8 L378.3 445.4 L382.6 449.2 L391.8 453.1 L407.1 457.0 L424.9 460.7 L438.2 463.0 L442.7 462.4 L443.2 460.4 L445.6 424.3 L449.0 388.2 L449.3 386.1 L449.8 384.0 L451.0 381.9 L474.8 347.9 L476.3 345.6 L431.9 398.8 L405.4 428.9 L388.1 448.9 L381.0 453.9 L367.0 458.9 L349.0 464.0 L328.5 468.8 L311.5 471.9 L305.8 471.3 L305.4 468.9 L307.6 415.3 L307.6 410.2 L296.9 328.6 L296.6 326.2 L297.2 325.5 L299.8 328.4 L310.1 342.7 L327.4 366.7 L337.5 381.2 L347.0 395.6 L358.7 414.9 L364.9 424.5 L374.9 438.9 L378.5 443.7 L384.8 448.5 L397.6 453.4 L415.6 458.2 L434.4 462.8 L448.3 465.9 L452.9 465.4 L453.3 463.4 L453.3 404.4 L453.5 402.2 L454.1 400.0 L456.5 395.6 L484.1 349.8 L483.9 349.4 L480.8 352.4 L443.7 389.8 L429.5 403.9 L404.7 427.4 L390.3 441.4 L384.6 446.1 L375.5 450.8 L349.3 460.2 L335.2 464.9 L304.5 474.3 L291.9 479.0 L286.3 483.7 L285.4 488.4 L287.5 516.6 L288.3 523.7 L288.7 522.0 L289.0 518.4 L294.3 465.6 L294.5 461.8 L294.4 458.0 L293.1 450.5 L275.8 363.6 L275.2 360.0 L275.7 358.1 L278.7 360.0 L282.9 363.6 L333.9 408.9 L345.8 420.2 L356.6 431.6 L364.1 439.1 L372.2 446.7 L376.5 450.5 L382.5 454.2 L393.4 458.0 L409.5 461.8 L427.5 465.4 L440.8 467.7 L445.0 467.1 L445.3 465.1 L443.2 422.4 L443.2 418.1 L444.8 413.9 L475.5 343.6 L475.5 342.9 L473.5 345.1 L432.2 396.5 L407.1 425.9 L389.0 448.0 L385.7 451.7 L378.5 455.4 L362.8 459.1 L344.0 462.7 L322.4 466.3 L305.2 468.4 L299.7 467.3 L299.5 464.8 L307.0 411.9 L307.5 406.7 L306.5 401.4 L289.8 332.6 L289.2 330.2 L290.0 329.5 L293.4 332.9 L298.1 338.1 L322.2 365.2 L336.4 381.4 L345.2 392.2 L357.5 408.5 L366.1 419.3 L375.4 430.1 L380.7 435.5 L387.5 440.9 L395.8 446.3 L433.1 467.9 L441.9 473.4 L449.2 478.8 L452.6 484.2 L453.5 489.6 L453.9 503.5 L460.9 342.9 L460.3 341.6 L458.3 343.6 L428.9 383.6 L403.4 416.6 L387.1 438.5 L383.4 442.2 L376.4 445.8 L365.1 449.5 L341.1 456.8 L314.3 464.0 L303.9 466.2 L300.6 465.4 L300.5 463.2 L307.2 399.7 L307.5 395.1 L307.2 392.9 L306.4 390.6 L290.7 347.6 L291.1 347.0 L294.0 349.8 L298.0 354.2 L334.6 394.7 L345.9 408.2 L363.4 430.7 L375.1 444.2 L379.4 448.7 L385.2 453.2 L393.6 457.7 L403.2 462.2 L433.1 475.5 L440.3 478.4 L442.7 477.8 L442.9 475.7 L443.0 417.2 L443.1 415.0 L443.7 412.7 L445.7 408.2 L473.0 352.0 L474.0 349.9 L474.1 349.1 L472.0 351.1 L431.4 396.4 L404.8 424.3 L388.9 441.8 L385.5 445.3 L379.2 448.8 L366.9 452.3 L339.2 459.2 L324.1 462.6 L312.2 464.6 L308.5 463.5 L308.4 461.1 L312.5 428.0 L312.6 425.4 L312.3 422.9 L290.6 344.0 L290.8 342.9 L293.1 344.6 L331.3 382.8 L343.3 395.6 L359.7 414.8 L365.5 421.2 L377.9 434.0 L381.7 437.2 L387.4 440.4 L394.9 443.5 L437.8 459.5 L478.6 475.5 L485.5 478.7 L489.3 481.9 L490.1 485.1 L488.4 500.9 L488.1 502.3 L487.7 500.3 L477.2 386.9 L476.8 383.3 L475.2 381.3 L471.3 382.9 L430.1 409.9 L402.8 427.0 L387.0 437.2 L380.8 440.6 L364.8 447.4 L342.2 457.6 L325.6 464.2 L319.1 466.1 L316.8 465.0 L316.4 462.4 L312.7 408.9 L299.5 312.5 L299.2 310.0 L299.9 309.4 L302.5 312.8 L306.0 318.0 L334.5 361.5 L344.5 377.8 L359.8 404.9 L366.3 415.8 L376.7 432.1 L380.8 437.5 L386.8 443.0 L395.4 448.4 L435.4 470.1 L444.5 475.5 L450.9 481.0 L452.7 486.2 L452.5 489.6 L452.2 489.0 L451.8 486.6 L443.7 429.0 L443.2 423.8 L443.5 421.2 L444.0 418.6 L460.4 340.2 L460.1 339.3 L458.2 341.7 L432.8 378.7 L403.0 420.0 L385.7 444.8 L381.0 449.0 L372.4 453.1 L342.0 465.5 L319.7 473.6 L311.0 476.0 L308.3 475.1 L308.2 472.5 L312.5 421.9 L312.7 416.5 L312.0 411.2 L299.7 336.5 L299.3 334.0 L299.8 333.2 L302.3 335.9 L305.7 340.3 L326.5 367.7 L336.6 381.4 L346.2 395.1 L357.9 413.4 L364.1 422.5 L370.6 431.6 L377.4 440.8 L381.6 445.3 L387.8 449.9 L396.1 454.5 L434.3 472.7 L442.6 477.3 L447.7 481.7 L449.2 484.4 L448.3 431.0 L448.3 425.7 L449.2 420.4 L465.5 344.1 L465.0 343.3 L462.3 346.3 L431.4 385.1 L406.8 414.3 L386.9 438.6 L380.4 443.5 L368.5 448.3 L340.2 458.1 L324.6 462.7 L312.3 465.8 L308.2 465.0 L308.0 462.7 L310.2 393.4 L310.0 388.3 L293.1 319.2 L293.7 318.9 L296.8 323.0 L322.7 360.9 L335.4 379.9 L343.4 392.6 L358.2 418.0 L366.0 430.7 L374.3 443.4 L378.9 449.7 L386.7 456.1 L400.7 462.4 L418.2 468.8 L434.6 475.1 L445.6 481.5 L448.8 487.6 L448.9 491.6 L448.7 491.0 L448.4 488.3 L442.3 415.3 L442.0 409.5 L442.4 406.6 L443.3 403.6 L469.0 339.4 L470.1 336.6 L470.2 335.5 L468.0 337.9 L442.1 371.7 L428.8 388.7 L404.5 418.4 L387.8 439.7 L383.8 443.9 L377.3 448.2 L339.7 465.1 L318.8 473.5 L310.8 476.0 L308.2 475.0 L308.1 472.5 L312.7 391.8 L312.7 386.5 L305.6 330.2 L306.0 329.1 L307.9 331.4 L333.6 370.6 L340.9 382.4 L345.6 390.2 L358.8 413.8 L365.8 425.6 L378.4 445.3 L381.7 449.2 L387.6 453.1 L396.8 457.1 L441.1 472.8 L451.2 476.7 L458.5 480.7 L461.0 484.6 L461.3 488.5 L461.8 502.2 L466.0 388.9 L466.0 385.4 L464.9 383.5 L461.5 385.1 L429.3 408.2 L404.8 424.7 L385.8 438.0 L379.8 441.3 L364.1 447.9 L341.8 457.8 L333.7 461.2 L325.5 464.3 L319.2 466.3 L317.4 465.4 L317.7 463.4 L329.7 403.6 L330.5 399.2 L330.4 397.0 L330.1 394.8 L317.6 324.0 L317.2 321.9 L317.6 321.5 L319.3 324.5 L326.7 338.8 L338.8 362.9 L345.6 377.3 L362.7 415.8 L372.0 435.0 L379.5 449.5 L383.6 454.3 L391.5 459.1 L402.4 463.9 L426.5 473.5 L436.5 478.3 L441.8 483.0 L443.3 486.0 L443.7 485.3 L443.9 482.9 L459.2 342.4 L459.4 340.1 L458.9 339.2 L456.8 341.7 L430.9 378.3 L403.4 415.0 L385.8 439.6 L381.3 443.6 L373.6 447.7 L337.1 464.1 L317.1 472.1 L309.4 474.5 L307.0 473.5 L307.1 471.0 L312.3 423.0 L312.8 417.7 L312.2 412.3 L302.1 335.0 L301.8 332.5 L302.4 331.7 L305.1 334.5 L308.6 339.0 L326.6 362.2 L337.1 376.2 L346.9 390.2 L362.3 413.5 L372.5 427.4 L379.8 436.7 L384.6 441.4 L391.3 446.1 L406.6 455.4 L430.4 469.3 L438.0 474.0 L444.3 478.6 L447.6 483.1 L448.6 485.9 L448.9 485.1 L449.2 482.5 L465.8 330.2 L465.4 329.3 L463.3 331.8 L440.7 366.5 L429.1 383.9 L405.0 418.8 L387.6 444.9 L384.2 449.2 L378.2 453.6 L368.5 458.0 L348.0 466.7 L326.2 475.4 L317.1 479.6 L313.4 482.2 L312.8 481.4 L310.4 415.3 L305.5 333.9 L306.3 333.3 L309.2 336.6 L332.3 367.4 L343.3 382.9 L360.0 408.8 L367.1 419.2 L378.5 434.7 L383.4 439.8 L390.4 445.0 L398.5 450.2 L433.2 470.9 L440.9 476.1 L446.2 481.1 L447.6 484.3 L439.9 428.4 L439.4 423.1 L439.6 420.4 L440.2 417.8 L460.3 344.1 L460.1 343.1 L458.0 345.3 L431.5 379.6 L403.4 414.0 L385.3 436.9 L380.8 440.8 L373.4 444.6 L357.1 452.2 L341.7 459.9 L306.8 475.2 L299.5 479.0 L296.0 482.9 L295.5 486.7 L296.6 501.8 L297.0 503.8 L297.6 498.9 L302.1 447.0 L302.4 440.1 L301.7 433.2 L293.2 360.6 L292.9 357.4 L294.2 355.9 L299.0 358.6 L324.7 377.2 L337.3 386.6 L343.2 391.3 L359.8 405.3 L365.7 410.0 L371.8 414.7 L378.4 419.4 L385.9 424.1 L394.7 428.8 L404.2 433.5 L433.4 447.4 L440.5 450.5 L443.2 450.4 L444.2 447.0 L468.3 341.6 L467.9 341.3 L466.0 343.7 L432.8 389.6 L406.4 424.1 L386.4 451.0 L381.0 454.8 L369.1 458.6 L352.6 462.5 L334.0 466.3 L313.8 470.0 L298.3 472.2 L293.5 471.1 L293.8 468.5 L306.6 419.4 L307.2 416.7 L307.5 413.9 L307.3 408.5 L301.6 329.5 L302.4 328.7 L305.2 331.9 L323.9 357.3 L334.9 372.6 L345.4 388.0 L358.1 408.5 L364.8 418.7 L375.6 434.1 L379.6 439.2 L384.8 444.3 L392.3 449.5 L400.9 454.6 L436.7 474.9 L443.3 478.1 L445.8 477.6 L446.3 475.4 L468.3 342.3 L467.8 341.7 L465.3 344.6 L441.6 377.6 L427.7 396.5 L405.9 424.9 L388.5 448.6 L384.0 453.4 L375.9 458.1 L362.9 462.8 L349.3 467.6 L311.0 479.8 L308.3 479.2 L308.3 477.0 L312.7 427.0 L312.7 424.6 L312.5 422.2 L295.6 343.9 L296.8 344.0 L301.6 349.0 L333.7 386.1 L345.8 401.0 L362.5 423.5 L374.8 438.4 L381.6 445.9 L389.3 453.2 L395.8 458.8' stroke='#ff0000'/>
<path d='M291.1 506.6 L479.1 307.5 M488.4 314.0 L428.9 376.2 L408.3 418.1' stroke='#ff0000'/>
<path d='M457.7 497.8 L461.4 496.7 L464.0 495.3 L465.6 494.1 L466.3 493.1 L466.4 492.2 L465.4 491.3 L460.8 489.3 L458.8 488.1 L457.8 486.7 L458.2 485.1 L459.1 483.6 L459.3 482.0 L458.3 480.6 L456.4 478.3 L449.5 471.0 L447.7 468.6 L446.3 466.3 L445.2 463.9 L443.8 459.2 L441.3 454.2 L440.3 451.4 L440.0 448.5 L440.2 442.4 L439.8 439.3 L438.2 433.3 L437.9 430.6 L438.4 427.9 L439.6 425.4 L440.0 423.1 L439.8 420.7 L438.8 418.3 L433.3 410.1 L430.0 404.0 L427.7 400.8 L422.2 394.9 L420.3 392.1 L419.9 389.5 L421.5 387.1 L425.6 382.4 L428.9 377.7 L433.1 372.6 L435.1 369.9 L436.4 367.1 L438.2 361.6 L439.3 358.9 L441.9 353.6 L443.0 350.9 L443.3 348.1 L443.4 342.7 L444.2 340.1 L445.4 337.5 L447.2 331.9 L448.0 330.4 L451.8 325.6 L453.1 324.5 L455.7 323.0 L456.1 322.6 L455.1 323.0 L452.4 325.2 L449.7 328.0 L448.3 330.6 L447.7 333.1 L447.3 337.4 L446.3 343.4 L444.6 349.6 L442.5 356.0 L438.8 362.5 L429.7 375.7 L417.0 395.3 L411.9 401.8 L399.7 415.1 L394.4 421.8 L386.0 435.2 L379.4 441.8 L367.3 448.1 L353.1 454.2 L337.8 460.2 L319.6 466.2 L308.2 472.2 L298.7 478.4 L294.2 481.6 L293.4 484.7 L294.8 487.7 L297.9 490.8 L301.4 493.7 L304.2 495.6 L305.6 495.5 L306.0 494.4 L305.9 492.1 L306.4 490.8 L307.3 489.5 L307.8 488.1 L307.1 486.7 L303.6 484.0 L302.3 482.8 L301.1 480.7 L300.4 478.2 L300.0 475.5 L300.3 472.7 L302.5 466.5 L302.9 463.3 L302.5 460.1 L301.6 456.9 L301.3 453.7 L302.3 445.0 L301.9 442.3 L299.6 436.9 L299.4 434.2 L300.4 431.5 L302.1 428.7 L303.3 425.9 L303.1 423.1 L300.6 417.3 L300.0 414.3 L300.4 411.2 L304.0 401.8 L305.6 395.8 L307.3 390.3 L307.6 387.7 L307.6 385.2 L306.9 377.4 L306.9 374.6 L307.5 371.6 L310.3 364.9 L311.2 361.5 L311.3 358.3 L310.9 356.9 L311.0 359.3 L311.7 363.5 L313.9 368.0 L318.0 372.4 L322.6 376.9 L328.1 381.3 L333.0 385.8 L336.9 390.3 L343.1 399.6 L346.6 404.3 L351.0 409.1 L365.5 423.1 L369.7 427.7 L377.4 436.8 L383.3 441.4 L393.8 446.0 L407.5 450.6 L437.6 459.6 L446.4 462.4 L449.0 461.7 L448.7 459.4 L445.8 454.4 L444.7 452.0 L444.5 449.6 L445.4 447.3 L447.3 445.1 L452.3 441.1 L454.0 439.2 L454.7 437.3 L454.4 435.2 L452.8 430.4 L452.7 427.7 L454.0 422.1 L454.5 419.4 L454.5 416.8 L454.2 411.8 L454.3 409.3 L456.1 402.0 L455.7 399.6 L454.5 397.1 L452.6 394.7 L451.1 392.2 L450.5 389.8 L450.8 387.4 L454.0 373.3 L454.0 370.8 L453.4 365.9 L453.3 363.4 L453.6 360.8 L454.6 358.1 L456.2 355.3 L456.4 352.6 L455.7 349.9 L454.8 347.3 L454.3 344.8 L454.7 340.0 L454.4 337.8 L453.4 335.6 L451.9 333.1 L452.0 330.3 L452.4 329.2 L453.3 328.1 L456.5 325.8 L453.5 329.5 L452.1 331.7 L450.7 334.3 L448.9 339.8 L446.0 345.5 L438.4 357.4 L435.1 363.4 L432.6 369.4 L422.1 386.6 L418.2 392.4 L405.1 410.5 L392.1 429.6 L384.3 441.9 L378.6 447.9 L368.3 453.7 L343.6 465.2 L315.1 476.5 L308.2 482.3 L309.7 480.0 L310.5 477.7 L310.4 474.4 L309.1 471.3 L305.7 465.5 L304.9 462.9 L305.2 460.4 L306.6 458.1 L310.4 453.4 L311.8 451.0 L312.5 448.3 L313.0 442.4 L313.1 432.5 L312.3 429.3 L310.0 423.4 L309.8 420.9 L311.0 418.6 L315.5 413.9 L316.7 411.2 L316.8 408.3 L316.4 405.2 L316.3 401.8 L316.8 398.3 L317.7 395.0 L319.1 391.8 L322.4 386.1 L323.7 383.2 L324.2 380.3 L323.7 377.2 L322.0 374.0 L319.2 370.7 L312.9 364.2 L311.0 361.1 L310.7 358.1 L311.4 355.3 L315.8 344.4 L316.7 341.7 L316.5 338.9 L315.2 336.0 L311.7 333.1 L311.1 332.4 L312.5 334.3 L313.5 340.7 L314.3 344.3 L315.6 347.9 L317.2 351.7 L322.2 359.5 L328.3 371.5 L331.2 375.5 L338.4 383.4 L341.6 387.3 L348.9 398.8 L352.0 402.7 L359.2 410.8 L362.2 414.9 L368.3 426.5 L373.0 433.9 L375.0 437.5 L378.8 444.8 L382.0 448.6 L389.7 452.5 L403.4 456.4 L419.8 460.2 L432.7 462.5 L437.9 461.8 L439.3 459.7 L440.0 457.3 L440.0 455.0 L439.3 452.8 L437.2 448.8 L436.9 447.0 L437.5 445.2 L440.9 441.7 L442.0 439.9 L442.1 438.0 L441.5 436.1 L441.3 434.1 L442.6 427.7 L442.5 423.3 L443.1 419.3 L443.0 417.4 L442.0 415.5 L439.4 411.3 L437.1 406.6 L436.3 404.2 L436.2 401.9 L436.8 399.7 L440.4 393.3 L442.7 386.3 L443.2 383.9 L444.9 379.6 L445.6 374.0 L447.3 367.7 L447.5 363.3 L447.9 361.2 L448.9 359.1 L450.5 357.0 L452.5 354.9 L457.4 350.5 L459.6 348.3 L461.0 346.3 L460.9 345.9 L458.8 349.0 L456.1 353.7 L453.7 358.6 L451.9 363.5 L448.3 378.5 L446.6 383.6 L443.2 388.7 L429.5 403.5 L424.7 408.4 L413.8 418.2 L408.9 423.1 L400.5 433.2 L395.9 438.3 L390.7 443.5 L385.0 448.8 L377.2 454.2 L364.0 459.5 L347.7 464.8 L328.3 469.8 L314.2 472.8 L311.3 472.0 L311.3 469.4 L311.5 466.6 L311.4 463.8 L310.5 461.1 L308.9 458.3 L307.7 455.7 L307.9 453.0 L309.8 450.5 L312.3 448.1 L314.2 445.7 L315.0 443.2 L314.4 438.0 L315.0 432.7 L315.1 430.0 L314.6 424.9 L314.6 422.3 L315.3 419.7 L317.2 414.6 L317.6 412.1 L317.6 409.6 L317.3 407.3 L316.4 404.9 L314.9 402.6 L308.1 395.5 L306.3 393.0 L305.3 390.4 L305.1 387.6 L305.6 384.8 L307.5 378.9 L308.1 376.0 L307.8 373.2 L305.0 365.5 L304.5 363.0 L304.2 360.5 L304.3 358.0 L304.9 355.6 L306.8 350.6 L307.1 348.0 L306.6 345.6 L304.8 340.8 L304.5 338.5 L305.0 336.3 L305.9 334.4 L307.6 332.6 L308.0 331.7 L308.3 331.6 L310.6 335.5 L313.6 344.6 L315.8 354.0 L318.5 358.5 L322.0 362.9 L335.5 376.1 L339.3 380.6 L342.4 385.3 L345.1 390.1 L347.3 394.9 L351.0 404.4 L353.2 409.1 L356.0 413.8 L366.6 428.4 L376.4 443.6 L382.7 448.6 L395.9 453.5 L414.5 458.4 L446.7 466.2 L450.3 465.7 L450.9 463.6 L450.6 461.2 L449.3 458.7 L445.9 453.7 L444.9 451.3 L444.5 449.0 L444.3 446.8 L444.6 444.8 L445.7 442.8 L450.6 439.1 L451.7 437.3 L450.7 435.5 L446.2 431.9 L444.7 429.9 L443.8 427.8 L441.7 420.9 L441.5 418.6 L441.7 414.1 L440.6 409.3 L440.4 406.8 L441.6 404.3 L445.7 399.7 L446.6 397.5 L446.3 393.3 L447.1 391.2 L450.2 387.0 L451.2 384.9 L451.9 382.8 L453.1 376.4 L454.4 371.8 L456.4 367.0 L456.9 364.6 L457.0 359.8 L457.7 357.5 L460.2 353.0 L460.9 350.9 L460.7 349.1 L459.4 348.9 L456.7 352.3 L453.9 357.1 L447.9 371.1 L445.4 375.4 L442.1 379.7 L434.0 388.5 L428.1 393.2 L422.9 398.0 L418.3 402.9 L414.7 407.8 L412.1 412.8 L408.2 422.7 L405.7 427.7 L402.4 432.7 L398.2 437.5 L393.0 442.2 L386.4 446.8 L376.3 451.3 L349.1 460.4 L334.6 465.1 L318.9 469.7 L308.3 474.4 L300.6 479.2 L297.1 482.0 L296.7 484.3 L297.3 486.6 L299.8 493.6 L300.9 495.8 L304.1 500.7 L303.8 497.7 L303.9 495.8 L304.7 494.0 L306.1 492.3 L309.5 488.9 L310.6 487.3 L311.0 485.8 L310.8 484.3 L310.1 482.9 L309.0 481.5 L305.6 474.5 L304.4 470.8 L304.4 467.0 L305.9 463.1 L311.1 455.4 L313.0 451.6 L313.4 447.9 L312.0 444.3 L309.2 440.6 L306.0 436.9 L303.7 433.1 L302.9 429.2 L302.9 420.9 L302.0 416.7 L300.1 412.5 L297.2 408.3 L294.1 404.3 L291.6 400.5 L290.3 396.7 L290.1 393.1 L290.8 385.9 L291.9 382.3 L293.4 378.5 L297.4 370.8 L298.6 366.9 L299.1 359.1 L300.0 357.1 L302.2 358.8 L304.6 362.3 L307.9 369.8 L310.0 373.7 L317.9 385.8 L321.0 389.9 L324.6 394.0 L330.1 398.0 L334.9 402.1 L338.6 406.1 L343.7 414.1 L347.0 417.9 L358.7 428.8 L369.6 439.6 L379.2 450.9 L384.4 454.7 L394.2 458.5 L423.5 466.1 L434.9 468.6 L437.0 468.3 L436.6 466.6 L436.9 464.6 L438.1 460.2 L439.6 452.4 L441.8 444.8 L441.9 442.4 L440.4 436.0 L440.8 434.1 L443.0 430.3 L443.7 428.3 L443.8 426.3 L441.8 422.3 L441.4 420.5 L441.4 418.8 L441.8 415.6 L441.9 412.0 L442.7 410.1 L444.3 408.1 L447.9 404.0 L448.8 402.0 L448.6 399.8 L447.5 397.6 L443.7 392.6 L442.6 390.0 L442.7 387.3 L444.0 384.5 L448.2 379.3 L449.4 376.9 L449.2 374.6 L446.2 370.5 L445.4 368.6 L445.7 366.7 L447.1 364.7 L450.7 360.8 L451.5 358.7 L451.1 356.6 L450.1 354.5 L449.7 352.3 L450.3 350.2 L453.2 346.1 L453.8 344.2 L452.9 343.5 L450.5 345.5 L447.8 348.8 L445.9 352.1 L444.1 358.8 L442.7 362.3 L438.9 369.9 L434.3 381.8 L429.6 389.9 L427.6 393.9 L426.3 397.8 L425.8 401.7 L425.7 409.0 L424.4 412.4 L421.2 415.8 L416.4 418.9 L410.9 422.1 L405.9 425.3 L401.8 428.6 L398.4 432.0 L382.0 450.8 L375.3 454.6 L361.3 458.5 L344.3 462.3 L324.5 466.0 L313.8 468.3 L311.6 467.5 L311.4 465.1 L309.7 457.2 L305.4 449.1 L304.8 446.5 L305.2 443.9 L306.6 441.2 L308.9 438.4 L317.2 429.8 L322.1 424.3 L323.9 421.9 L324.7 419.6 L324.3 417.3 L323.6 415.0 L323.6 412.5 L324.8 409.9 L326.7 407.2 L328.2 404.5 L328.5 401.7 L327.5 399.0 L325.8 396.2 L323.6 393.3 L321.1 390.5 L315.2 385.0 L312.8 382.3 L311.4 379.7 L311.4 377.2 L312.9 372.2 L313.5 369.7 L313.8 367.3 L314.0 364.8 L313.8 362.3 L313.4 359.7 L310.7 348.9 L307.0 336.9 L306.3 334.1 L306.3 332.4 L307.3 331.5 L309.1 331.5 L311.3 333.5 L312.8 338.4 L314.0 344.1 L315.9 349.6 L318.7 354.9 L322.4 360.1 L327.7 365.3 L332.5 370.4 L345.8 385.8 L349.9 390.8 L361.0 406.3 L372.7 423.7 L377.5 429.7 L383.1 435.7 L389.8 441.6 L397.4 447.2 L412.6 458.1 L419.5 463.4 L425.9 468.8 L432.7 474.2 L435.7 479.7 L436.7 483.0 L436.4 487.8 L436.5 489.9 L437.1 491.1 L440.3 488.8 L447.8 484.4 L449.2 483.0 L449.7 481.7 L449.7 475.6 L448.4 472.6 L446.7 466.6 L445.6 463.7 L444.0 460.8 L440.1 455.2 L439.1 452.2 L439.5 449.2 L441.2 446.0 L446.8 439.7 L449.2 436.6 L450.1 433.6 L449.2 430.8 L447.4 428.2 L446.0 425.5 L446.0 422.9 L448.3 417.3 L449.3 414.3 L449.9 411.2 L450.1 407.9 L450.0 404.6 L449.6 401.4 L449.0 398.2 L445.1 392.3 L443.7 389.5 L442.7 386.8 L442.1 384.0 L441.9 381.0 L442.5 374.9 L442.6 371.8 L441.9 365.9 L441.9 363.0 L442.4 357.1 L442.6 351.3 L443.2 348.4 L444.3 345.5 L446.8 341.2 L446.3 342.9 L444.7 346.0 L440.8 352.4 L434.9 363.1 L432.4 366.9 L429.0 374.6 L427.1 378.4 L420.3 386.1 L414.2 393.7 L411.6 397.5 L405.3 408.3 L402.8 411.8 L394.1 422.4 L391.6 426.1 L387.5 433.9 L385.0 438.0 L381.6 442.1 L375.8 446.2 L358.9 454.0 L350.4 457.7 L340.2 461.2 L321.2 466.2 L318.1 465.1 L316.6 462.6 L315.4 460.2 L314.7 457.9 L314.5 455.8 L315.2 453.8 L316.9 452.0 L319.1 450.0 L321.0 448.0 L321.9 445.9 L322.0 443.7 L321.8 441.4 L321.2 439.2 L317.6 433.0 L317.2 430.9 L317.3 426.7 L316.7 424.5 L312.3 418.0 L311.8 415.7 L312.2 413.3 L313.9 408.3 L314.2 405.8 L313.9 403.3 L312.2 398.5 L310.9 393.7 L310.5 388.9 L310.6 386.5 L311.3 384.1 L313.8 379.5 L314.2 377.2 L313.3 375.0 L307.1 368.5 L303.4 363.7 L301.7 361.2 L300.8 358.6 L300.7 356.0 L301.6 351.2 L302.7 346.9 L304.3 346.6 L307.8 349.6 L311.8 354.2 L314.9 358.8 L316.3 363.4 L316.9 372.6 L319.1 377.2 L331.7 390.9 L335.3 395.5 L344.2 408.5 L347.4 412.6 L351.3 416.6 L365.3 429.1 L369.9 433.5 L374.0 438.1 L377.8 442.9 L381.3 447.8 L385.3 452.7 L390.9 457.7 L397.7 462.7 L406.1 467.6 L416.1 472.4 L426.4 476.8 L435.7 479.4 L439.4 478.4 L440.1 475.9 L439.9 473.3 L439.1 470.8 L437.9 468.5 L433.5 462.0 L432.6 459.7 L432.3 457.4 L432.8 455.1 L433.8 452.8 L439.1 444.7 L440.0 443.0 L440.3 441.2 L439.4 435.0 L439.5 432.7 L440.2 430.3 L443.4 423.1 L444.4 418.2 L447.1 411.0 L447.0 408.7 L445.4 404.2 L445.0 401.7 L444.1 391.0 L444.4 388.4 L445.1 385.9 L446.2 383.6 L449.7 379.3 L450.6 377.4 L450.2 375.5 L446.9 372.0 L446.1 370.2 L446.8 368.3 L450.8 363.8 L452.5 361.3 L454.7 356.2 L459.3 348.8 L459.4 347.8 L457.7 349.8 L452.0 357.3 L449.5 361.4 L447.8 365.5 L445.9 373.3 L444.1 377.0 L435.1 387.1 L433.2 390.4 L432.1 393.7 L430.3 397.0 L427.9 400.4 L424.5 403.9 L416.3 410.8 L412.8 414.3 L409.8 417.9 L407.2 421.4 L402.8 428.6 L400.3 432.1 L396.9 435.7 L383.5 446.1 L377.4 449.5 L366.4 453.0 L354.2 456.4 L341.3 459.8 L326.6 462.9 L316.0 464.6 L312.4 463.2 L310.8 460.3 L309.8 457.4 L309.6 454.5 L310.2 451.8 L311.9 446.8 L312.2 444.4 L312.4 439.6 L312.7 437.1 L313.3 434.7 L314.1 432.2 L315.2 429.9 L317.9 425.3 L318.5 423.0 L318.0 415.8 L318.5 413.3 L319.7 410.6 L323.1 405.2 L324.4 402.4 L324.7 399.6 L323.7 396.9 L321.7 394.2 L316.4 389.3 L314.4 387.0 L313.2 384.6 L312.8 382.1 L313.0 379.6 L314.5 371.6 L314.4 368.8 L312.9 360.4 L312.8 357.7 L313.6 350.4 L313.5 348.2 L312.9 345.9 L311.7 343.8 L310.4 343.0 L310.2 345.0 L311.3 348.2 L313.3 351.6 L318.3 358.1 L320.1 361.1 L321.0 364.0 L321.6 366.8 L323.2 369.6 L332.4 378.7 L339.8 388.8 L342.8 392.1 L350.0 398.6 L353.1 401.8 L356.1 404.9 L358.7 408.1 L360.7 411.3 L365.7 421.5 L367.7 425.2 L374.5 436.4 L377.1 439.8 L381.9 443.0 L389.4 445.9 L416.0 453.9 L423.5 456.6 L430.7 459.4 L436.9 462.4 L441.3 465.5 L446.6 468.8 L458.9 475.5 L464.1 478.8 L466.7 481.1 L467.0 482.5 L466.6 483.8 L466.8 485.1 L467.8 486.5 L472.0 490.2 L464.6 484.8 L463.0 482.9 L462.5 481.0 L463.3 473.7 L463.3 469.8 L462.6 465.9 L461.2 462.0 L455.7 450.8 L454.5 447.2 L454.6 443.6 L455.9 439.9 L460.1 432.5 L461.4 428.6 L461.6 424.7 L461.0 420.8 L459.1 413.1 L456.8 398.0 L456.5 394.4 L457.0 387.5 L456.1 384.2 L453.5 382.4 L449.3 384.1 L445.2 387.3 L442.3 390.6 L440.3 393.9 L437.5 400.8 L434.9 404.3 L425.7 411.3 L420.4 414.9 L403.0 425.5 L383.5 438.8 L378.0 442.0 L371.3 445.3 L329.8 463.9 L325.2 465.8 L324.3 464.8 L325.9 454.9 L325.8 452.2 L325.0 449.6 L323.0 444.4 L320.8 436.5 L320.4 433.7 L320.4 430.9 L320.9 425.3 L320.8 422.6 L320.0 420.0 L317.5 415.3 L316.7 413.1 L316.6 411.0 L317.1 406.6 L316.4 398.2 L317.2 388.0 L316.3 381.5 L313.3 368.3 L313.1 365.6 L314.0 354.2 L314.1 349.1 L314.0 346.6 L313.1 339.0 L312.7 336.3 L311.9 333.7 L306.4 329.2 L305.4 327.7 L305.7 326.3 L308.4 324.1 L309.0 323.3 L308.8 322.7 L308.6 323.0 L310.4 327.4 L311.7 329.6 L313.4 331.7 L315.8 333.7 L335.8 354.7 L340.2 360.3 L344.1 366.0 L347.4 371.8 L350.3 377.6 L355.6 389.1 L358.5 394.8 L361.8 400.3 L369.1 411.1 L372.5 416.4 L375.2 421.8 L377.1 427.1 L378.7 432.5 L380.9 437.8 L385.7 443.1 L393.7 448.4 L423.7 464.3 L433.2 469.8 L440.8 475.2 L443.9 480.3 L444.7 482.7 L444.4 484.4 L444.3 484.2 L444.2 482.2 L438.6 473.9 L437.6 471.0 L437.3 468.0 L437.3 461.9 L436.9 459.0 L435.2 453.7 L434.8 451.1 L435.4 448.6 L440.2 440.9 L441.5 438.3 L442.3 435.6 L442.6 433.0 L441.9 430.5 L440.2 428.0 L435.2 423.2 L433.5 420.8 L432.7 418.5 L432.5 416.1 L432.9 413.5 L434.0 410.9 L437.8 405.4 L439.3 402.6 L440.1 399.8 L440.3 397.2 L440.1 394.8 L438.9 390.0 L438.6 387.5 L439.3 385.0 L442.7 379.5 L443.9 376.6 L444.0 373.5 L442.8 367.5 L443.2 364.5 L444.6 361.7 L446.6 359.2 L450.9 354.5 L452.5 352.3 L452.9 350.2 L452.1 348.1 L450.7 346.0 L449.7 343.7 L449.3 340.6 L446.1 346.8 L441.4 354.8 L439.3 358.8 L436.1 366.9 L433.9 370.9 L431.4 374.7 L428.4 378.6 L421.7 386.3 L419.0 390.4 L417.0 394.5 L413.1 403.3 L410.5 407.8 L404.4 416.8 L396.3 429.9 L388.1 441.3 L385.8 444.8 L382.1 448.4 L374.6 452.2 L364.7 456.1 L344.8 464.5 L334.4 468.7 L323.5 472.7 L318.0 475.0 L316.7 474.0 L316.3 471.4 L314.4 466.1 L313.8 463.6 L313.7 456.4 L312.6 451.6 L312.3 449.2 L313.4 441.6 L314.7 436.1 L314.9 433.2 L314.5 427.3 L314.8 424.4 L315.8 421.6 L319.2 416.4 L320.2 414.0 L320.1 411.5 L319.4 408.9 L319.0 406.1 L319.7 403.2 L322.9 397.3 L323.7 394.6 L323.3 391.9 L321.9 389.4 L319.8 387.0 L314.4 382.0 L312.4 379.5 L311.8 376.8 L312.6 374.0 L313.9 371.2 L314.9 368.4 L314.9 365.7 L313.4 360.5 L313.3 357.9 L313.8 352.3 L313.5 349.4 L312.5 346.6 L310.1 341.3 L308.5 336.6 L307.3 334.6 L306.4 334.4 L307.0 336.6 L309.3 340.9 L313.2 345.2 L317.9 349.6 L326.8 358.5 L330.0 363.1 L333.8 372.4 L336.3 377.0 L339.8 381.6 L348.4 390.6 L352.3 395.3 L355.4 400.0 L357.9 404.8 L362.3 414.6 L365.0 419.5 L374.1 433.4 L382.3 446.4 L386.7 450.8 L393.3 455.2 L401.8 459.8 L412.3 464.3 L423.8 468.9 L434.2 473.4 L442.5 477.8 L444.5 481.2 L444.4 482.3 L445.6 480.6 L446.4 478.4 L446.1 475.6 L444.0 469.8 L443.4 467.0 L443.5 464.2 L444.6 459.0 L444.4 456.4 L443.7 453.9 L442.6 451.4 L439.1 443.9 L436.8 436.7 L434.3 431.5 L433.6 428.8 L434.0 426.1 L436.8 420.5 L437.7 417.6 L438.0 414.7 L437.5 408.9 L437.5 406.1 L438.1 403.5 L440.4 398.5 L441.9 396.1 L445.2 391.3 L448.9 386.4 L450.3 384.0 L450.8 381.5 L450.1 379.0 L448.9 376.6 L448.1 374.1 L448.3 371.6 L451.0 366.5 L451.6 363.9 L451.0 361.1 L449.9 358.2 L449.1 355.3 L449.4 352.4 L450.8 349.5 L452.4 346.7 L453.4 344.2 L452.9 343.4 L450.7 346.4 L444.4 356.0 L440.6 360.8 L431.6 370.1 L425.8 374.6 L421.5 379.2 L417.7 383.6 L410.6 392.6 L407.6 397.1 L405.5 401.7 L404.1 406.5 L403.2 411.3 L401.8 416.3 L399.2 421.4 L395.0 426.5 L385.2 436.8 L379.4 442.0 L369.8 447.3 L347.3 457.8 L324.8 466.2 L323.0 465.8 L321.9 463.8 L317.7 459.3 L316.2 456.9 L314.2 452.0 L312.3 449.5 L307.4 444.5 L306.1 442.0 L306.0 439.4 L307.0 434.0 L307.8 428.4 L311.0 422.5 L312.2 419.6 L313.6 413.8 L314.5 411.1 L315.8 408.6 L321.2 401.5 L322.5 399.0 L323.1 396.4 L323.0 393.7 L322.3 390.9 L320.1 385.8 L316.6 379.3 L315.8 377.0 L314.1 369.0 L311.8 360.4 L309.4 352.4 L308.8 349.7 L308.6 347.0 L309.0 344.4 L310.2 339.2 L310.1 336.7 L309.2 334.1 L306.4 331.7 L305.6 330.5 L305.6 329.3 L306.4 328.1 L307.6 327.0 L309.6 326.8 L313.0 328.4 L316.8 331.0 L320.0 334.4 L322.7 340.7 L325.3 347.2 L328.4 353.8 L347.4 386.2 L358.0 403.8 L361.4 409.7 L364.5 415.8 L367.4 422.0 L370.1 428.6 L375.0 442.3 L377.9 449.4 L383.8 456.4 L395.9 463.3 L427.1 476.6 L437.6 482.3 L442.9 486.7 L444.9 486.3 L446.3 484.8 L446.9 483.3 L446.6 481.7 L443.1 474.0 L442.5 471.2 L443.0 468.4 L444.5 465.6 L446.2 462.6 L447.7 459.5 L448.4 456.4 L448.1 453.3 L446.7 450.2 L444.4 447.2 L441.9 444.4 L440.2 441.7 L440.0 438.9 L440.8 436.2 L445.1 424.5 L445.3 421.6 L444.2 418.7 L440.5 412.9 L439.9 410.0 L440.8 407.0 L441.8 404.0 L442.1 401.0 L442.0 395.1 L442.7 392.1 L444.1 389.2 L448.2 383.3 L449.8 380.4 L450.3 377.4 L449.8 374.4 L447.8 368.5 L444.8 356.9 L444.6 353.9 L445.3 350.8 L446.7 347.7 L448.5 344.6 L450.7 341.7 L456.4 335.0 L455.2 337.6 L450.5 345.8 L448.8 349.9 L447.4 353.9 L444.2 366.2 L442.1 370.5 L437.8 375.0 L426.4 384.0 L421.2 388.5 L416.9 393.0 L409.8 402.1 L406.7 406.6 L404.5 411.2 L403.4 415.6 L402.7 420.0 L401.5 424.3 L399.2 428.5 L396.0 432.7 L389.0 441.2 L384.7 445.5 L377.6 449.7 L358.0 458.0 L342.2 466.0 L333.9 469.8 L324.6 473.5 L319.9 475.7 L318.9 474.4 L319.3 468.7 L318.8 465.9 L317.0 460.4 L317.3 457.7 L319.2 455.0 L324.6 449.6 L325.8 446.9 L325.7 444.3 L324.7 441.6 L324.0 439.0 L324.2 436.4 L326.3 431.4 L327.1 429.0 L329.1 421.5 L329.4 418.8 L328.7 416.2 L326.9 413.5 L324.6 410.9 L322.7 408.4 L322.2 405.8 L324.4 398.0 L324.7 395.3 L324.7 392.4 L324.1 389.5 L322.0 383.6 L321.4 380.7 L321.2 375.1 L320.9 372.4 L320.1 369.7 L316.4 359.4 L313.7 348.8 L310.2 340.3 L310.0 337.4 L310.9 334.5 L312.6 332.6 L314.6 331.4 L317.0 331.1 L319.4 332.3 L321.3 334.9 L322.2 339.2 L322.4 343.4 L322.9 347.4 L324.0 351.3 L325.4 354.9 L327.1 358.4 L329.1 361.8 L331.5 365.2 L334.7 368.8 L347.1 380.4 L350.0 384.6 L351.9 389.0 L354.8 397.7 L357.1 401.9 L365.4 413.9 L367.9 417.8 L370.0 421.9 L371.8 426.2 L373.2 430.5 L375.2 438.9 L376.3 442.8 L377.8 446.5 L380.1 449.9 L384.1 453.4 L390.4 456.8 L414.2 468.5 L423.9 472.6 L431.6 476.8 L436.8 480.6 L438.9 482.4 L441.0 489.2 L441.1 490.3 L440.5 489.8 L439.8 488.6 L437.8 484.4 L437.8 482.8 L439.2 480.3 L445.0 472.4 L447.2 468.5 L448.5 464.7 L450.5 454.2 L451.2 450.9 L451.9 444.4 L452.5 441.0 L454.5 433.6 L454.7 429.7 L453.7 425.6 L452.0 421.4 L450.5 417.3 L450.2 413.2 L450.8 409.3 L451.7 405.6 L452.2 402.1 L451.6 392.0 L451.9 385.3 L451.4 383.5 L449.6 385.0 L447.6 388.1 L443.9 394.6 L441.7 397.9 L437.1 401.2 L397.3 427.0 L392.1 430.5 L382.9 437.5 L377.7 440.8 L357.7 450.3 L345.8 456.7 L339.2 460.1 L331.4 463.4 L324.2 465.5 L320.4 464.9 L318.5 463.0 L317.1 461.0 L316.5 458.9 L316.8 456.8 L317.3 454.5 L319.1 449.7 L320.5 447.3 L324.1 442.6 L325.4 440.4 L325.8 438.2 L325.4 436.1 L324.3 434.0 L321.3 429.6 L320.3 427.4 L320.4 425.1 L321.4 422.8 L323.9 418.3 L325.8 413.7 L329.3 406.7 L330.0 404.5 L330.0 402.4 L329.0 396.7 L329.2 394.8 L330.7 390.9 L331.2 388.9 L331.3 386.7 L331.1 384.3 L328.9 374.8 L328.8 368.3 L327.6 361.7 L327.1 357.1 L326.5 354.8 L325.0 350.3 L324.8 348.2 L325.2 344.0 L325.4 339.9 L326.1 337.7 L327.5 335.5 L329.2 334.0 L330.1 332.7 L329.6 331.4 L327.9 330.1 L325.3 328.8 L322.3 327.8 L319.9 327.6 L319.2 329.1 L319.8 331.6 L321.3 334.2 L323.8 339.4 L327.2 344.7 L331.4 349.9 L340.5 359.7 L344.5 364.3 L347.5 368.9 L349.6 373.4 L351.0 377.9 L352.7 387.2 L353.8 391.9 L355.7 396.7 L358.3 401.6 L363.9 411.6 L366.1 416.6 L371.5 431.6 L379.8 451.3 L383.0 456.1 L389.4 460.8 L398.2 465.4 L417.3 474.3 L432.8 482.5 L432.8 482.0 L431.3 479.7 L431.3 477.3 L432.5 475.0 L436.3 470.5 L437.6 468.3 L441.7 458.6 L442.0 455.9 L441.5 453.2 L439.8 447.8 L439.5 442.7 L439.1 440.1 L438.3 437.7 L437.7 435.2 L437.9 432.7 L439.8 424.7 L440.8 422.0 L444.2 416.8 L444.8 414.4 L443.4 412.0 L436.7 406.8 L434.2 404.0 L433.3 401.2 L433.7 398.5 L434.8 393.5 L435.0 391.3 L435.1 384.6 L435.8 382.2 L440.6 374.5 L441.3 371.8 L441.1 369.2 L439.9 366.8 L436.9 362.3 L436.3 360.1 L437.0 357.9 L438.5 355.4 L442.4 350.1 L449.3 341.5 L450.7 338.9 L450.8 338.0 L447.9 344.3 L443.4 356.7 L441.4 360.9 L434.2 369.6 L430.8 373.9 L427.8 378.3 L420.4 391.1 L417.8 395.3 L414.6 399.3 L406.9 407.5 L403.5 411.6 L400.8 415.9 L394.5 428.8 L391.9 433.0 L389.0 436.9 L385.5 440.7 L380.6 444.3 L365.5 451.5 L358.9 455.1 L352.9 458.8 L346.0 462.7 L337.1 466.7 L326.1 470.8 L320.1 473.5 L317.0 473.0 L313.0 468.8 L311.7 466.5 L311.2 464.1 L311.6 461.5 L312.9 455.8 L314.7 444.4 L314.4 441.8 L312.9 436.9 L313.1 434.4 L315.5 429.0 L316.1 426.1 L315.3 423.1 L313.4 420.3 L308.6 414.9 L307.6 412.4 L307.6 410.0 L308.6 405.2 L311.0 397.6 L312.2 391.9 L315.1 383.0 L316.5 374.0 L319.1 364.3 L320.1 362.1 L326.4 354.6 L327.4 351.7 L326.9 348.7 L325.5 345.7 L322.3 339.9 L320.6 334.6 L319.7 333.3 L319.1 333.1 L322.4 349.3 L324.3 354.0 L326.7 358.6 L329.6 363.0 L333.1 367.4 L340.8 376.2 L344.3 380.6 L353.8 394.5 L356.7 399.2 L359.2 403.9 L361.3 408.5 L364.8 417.5 L367.5 422.1 L371.5 426.7 L376.5 431.3 L382.0 436.0 L387.8 440.7 L394.4 445.2 L401.4 449.7 L408.7 454.1 L424.7 463.2 L432.5 468.0 L440.1 472.8 L445.8 477.8 L449.0 482.3 L449.8 481.9 L450.2 480.6 L448.3 476.3 L446.8 473.7 L446.2 471.1 L446.6 468.4 L447.3 465.8 L447.4 463.1 L446.5 460.3 L445.2 457.5 L444.4 454.7 L444.3 451.9 L446.2 443.8 L446.9 438.8 L447.4 436.2 L449.5 430.8 L450.1 428.0 L450.1 425.0 L449.4 418.9 L449.7 416.0 L450.7 413.2 L453.2 407.9 L453.6 405.3 L453.2 402.7 L452.2 399.9 L447.5 391.6 L446.6 389.0 L446.4 386.5 L446.4 384.0 L446.2 381.5 L444.2 376.6 L443.7 374.1 L444.5 371.7 L446.2 369.3 L448.3 367.0 L450.0 364.6 L450.9 362.1 L451.1 359.4 L450.7 356.6 L450.0 353.6 L448.1 347.6 L447.4 344.8 L447.2 342.1 L447.4 337.1 L447.8 335.5 L449.0 333.9 L447.4 337.5 L446.1 341.8 L445.2 346.1 L445.0 350.5 L446.8 359.5 L446.1 363.9 L442.7 368.3 L432.2 376.8 L428.1 381.0 L425.6 385.1 L422.0 393.5 L419.3 397.7 L415.6 402.0 L406.0 410.6 L401.7 414.8 L399.0 419.0 L397.8 423.1 L396.6 431.3 L395.1 435.6 L392.6 440.0 L389.1 444.5 L384.6 449.0 L378.3 453.4 L369.6 457.6 L351.8 466.0 L341.6 470.1 L329.6 474.3 L319.2 478.5 L316.6 480.1 L316.4 480.0 L316.7 478.4 L316.7 476.1 L316.1 471.2 L316.3 468.6 L318.1 460.3 L318.1 457.5 L317.2 454.8 L316.1 452.1 L315.4 449.5 L315.8 447.0 L318.7 442.1 L319.9 439.7 L320.4 437.3 L320.0 434.9 L318.6 430.0 L317.8 422.5 L315.8 415.5 L315.5 413.2 L315.9 410.8 L317.0 408.5 L318.6 406.2 L322.3 401.4 L323.7 398.9 L324.0 396.2 L322.9 393.5 L320.6 390.8 L314.8 385.7 L313.1 383.2 L312.9 380.8 L314.8 375.8 L315.1 373.1 L314.5 367.9 L314.5 365.3 L315.3 362.8 L318.0 358.2 L318.6 355.9 L318.4 353.6 L317.4 348.9 L316.5 335.5 L316.2 334.7 L316.7 341.1 L317.5 345.6 L320.9 350.4 L328.9 360.5 L336.8 371.1 L345.3 381.8 L349.0 387.1 L351.7 392.4 L355.9 402.9 L358.6 408.2 L362.3 413.6 L379.4 434.2 L384.5 439.1 L391.7 444.0 L400.2 448.9 L418.4 458.9 L427.1 464.1 L434.8 469.4 L441.2 474.7 L443.3 479.4 L442.7 481.0 L441.8 480.8 L441.4 479.7 L441.0 475.1 L440.3 472.6 L438.2 467.8 L438.3 465.3 L439.5 462.7 L443.1 457.1 L444.4 454.2 L444.8 451.2 L444.1 448.3 L441.6 442.7 L441.1 440.0 L441.4 437.3 L442.1 434.7 L442.2 432.1 L441.4 429.6 L438.4 424.7 L437.9 422.2 L438.8 417.1 L439.5 411.5 L440.6 408.7 L444.1 403.2 L445.2 400.6 L445.4 398.2 L443.0 391.0 L442.6 388.3 L442.5 385.6 L442.7 379.8 L442.5 376.9 L441.2 371.4 L441.1 368.8 L442.2 366.4 L446.3 361.7 L447.7 359.4 L448.1 357.0 L446.5 349.5 L446.6 346.7 L447.5 342.5 L445.4 347.4 L443.5 350.8 L436.0 362.0 L432.9 366.0 L430.6 370.2 L427.9 378.4 L425.5 382.5 L421.9 386.6 L417.6 390.6 L413.7 394.6 L411.3 398.6 L410.2 402.8 L409.7 407.1 L408.5 411.5 L406.1 415.8 L399.9 424.1 L395.0 431.6 L392.0 435.0 L388.4 438.4 L383.3 441.7 L366.9 448.4 L359.5 451.9 L347.0 459.2 L340.1 462.9 L324.2 470.5 L319.5 474.3 L315.4 478.1 L313.0 480.6 L311.6 482.5 L310.4 484.4 L309.8 486.4 L309.8 488.3 L310.1 490.2 L309.9 491.2 L309.5 490.6 L309.7 489.1 L311.1 487.5 L313.2 485.8 L314.7 484.0 L315.0 482.2 L313.1 477.5 L312.1 474.0 L311.5 470.5 L311.7 463.7 L311.6 460.3 L310.9 456.7 L306.7 442.6 L306.0 439.3 L305.6 436.0 L305.9 432.9 L307.7 426.5 L308.2 423.3 L307.8 416.5 L307.5 400.9 L307.3 386.4 L307.5 383.1 L308.2 379.9 L311.0 373.3 L311.7 370.0 L311.3 366.6 L308.3 356.7 L308.6 355.4 L311.0 358.2 L318.6 367.6 L323.3 372.3 L337.8 381.7 L344.2 386.3 L350.0 391.0 L354.7 395.7 L362.1 405.5 L366.3 410.6 L371.9 415.7 L378.7 420.6 L387.0 425.4 L396.6 430.1 L416.2 439.2 L425.5 443.9 L439.8 451.9 L441.0 452.0 L439.9 450.6 L439.0 448.8 L438.7 446.8 L439.0 444.7 L439.9 442.5 L441.4 440.3 L443.4 438.1 L444.8 436.0 L445.3 433.9 L445.5 431.9 L445.3 429.9 L444.8 428.1 L443.9 424.9 L443.2 423.5 L441.8 422.3 L437.9 419.8 L436.9 418.4 L437.2 416.8 L439.8 413.2 L440.3 411.3 L440.0 407.5 L440.4 404.0 L439.9 402.3 L438.3 400.4 L436.1 398.5 L434.4 396.5 L433.7 394.4 L434.1 392.5 L434.8 390.8 L435.2 389.1 L434.9 387.6 L433.7 384.5 L433.5 383.0 L433.8 381.3 L434.8 379.7 L436.7 378.2 L442.4 375.4 L444.7 374.0 L445.8 372.6 L445.8 370.9 L443.4 361.9 L443.0 359.3 L442.9 356.7 L443.2 354.3 L444.2 352.2 L446.3 348.6 L448.0 344.5 L450.1 341.8 L450.4 341.7 L449.1 344.4 L446.6 348.4 L440.7 356.7 L438.2 360.7 L436.3 364.6 L435.0 368.3 L434.2 372.1 L434.0 375.8 L433.1 379.5 L431.3 383.2 L428.7 386.8 L422.7 394.0 L420.2 397.6 L418.2 401.2 L414.7 408.6 L412.7 412.6 L404.5 425.1 L397.0 437.6 L393.8 441.4 L386.2 448.5 L382.9 452.0 L378.4 455.5 L369.4 459.0 L356.8 462.6 L342.1 466.3 L324.3 469.9 L317.5 472.0 L316.6 470.8 L317.3 468.2 L316.9 465.4 L315.0 462.5 L310.3 456.9 L309.2 454.0 L309.6 451.2 L312.2 442.8 L313.4 440.1 L317.3 434.4 L318.5 431.5 L318.5 428.6 L317.0 422.9 L316.5 417.8 L315.8 415.4 L312.7 410.9 L311.4 408.6 L310.9 406.2 L311.2 403.7 L312.1 401.0 L312.2 398.1 L310.6 392.2 L310.3 389.2 L311.1 386.3 L313.0 383.5 L317.5 378.3 L318.8 375.9 L319.3 373.4 L319.5 371.0 L320.1 368.5 L321.4 365.8 L324.7 360.0 L325.6 357.0 L325.8 354.0 L325.6 351.2 L325.6 345.8 L325.1 343.0 L323.7 340.2 L321.6 337.3 L320.1 334.4 L319.8 332.7 L321.2 331.3 L324.1 330.9 L327.9 332.2 L330.8 335.8 L332.5 340.9 L333.7 346.2 L336.6 351.5 L343.5 362.1 L348.6 372.5 L356.5 386.9 L358.7 391.6 L360.4 396.4 L361.6 401.4 L363.8 412.0 L365.3 417.5 L367.6 423.0 L370.9 428.4 L374.9 433.8 L379.5 439.1 L384.7 444.5 L391.3 450.0 L405.8 460.9 L413.3 466.2 L420.9 471.3 L428.8 476.1 L436.1 479.0 L439.0 478.2 L440.9 475.8 L442.4 473.3 L442.9 470.8 L442.5 468.5 L440.5 463.8 L440.5 461.4 L441.6 459.0 L443.3 456.6 L444.7 454.2 L445.0 452.0 L443.8 447.6 L443.9 445.4 L446.4 440.8 L446.7 438.2 L445.6 435.6 L442.0 430.3 L439.0 425.3 L438.5 423.0 L438.9 420.6 L440.2 418.3 L442.2 415.9 L447.0 410.9 L449.1 408.4 L450.6 405.9 L451.7 403.4 L452.7 401.0 L453.4 398.7 L453.4 396.5 L452.5 392.3 L452.9 390.1 L454.8 385.6 L454.2 383.2 L452.1 380.6 L446.3 375.0 L444.0 372.2 L442.9 369.4 L443.1 366.7 L446.2 359.3 L447.6 357.1 L450.9 352.9 L451.5 350.7 L450.6 348.4 L447.5 343.5 L446.9 341.2 L446.5 340.7 L445.1 344.0 L442.4 348.9 L435.6 359.1 L433.4 363.9 L432.5 368.5 L432.4 373.0 L431.6 377.5 L429.3 382.2 L422.8 391.8 L420.0 396.7 L417.4 401.6 L412.7 411.6 L409.8 416.6 L406.1 421.6 L402.0 426.6 L393.3 436.2 L389.8 440.8 L387.0 445.4 L384.6 449.9 L381.2 454.3 L374.3 458.9 L351.3 468.3 L338.8 473.2 L325.7 477.9 L318.8 480.9 L315.9 480.3 L313.7 478.0 L312.0 475.4 L311.6 472.9 L312.1 470.5 L313.5 465.5 L314.4 460.4 L314.3 457.9 L313.5 455.5 L311.5 451.0 L311.3 448.7 L312.2 446.5 L315.5 441.6 L316.8 439.1 L318.5 434.0 L318.5 431.6 L317.4 429.3 L315.4 427.0 L313.9 424.9 L314.1 422.7 L315.8 420.5 L318.0 418.3 L319.2 416.0 L318.8 413.6 L314.3 406.6 L313.1 404.3 L312.2 402.2 L312.2 400.0 L313.5 395.5 L313.7 393.0 L313.4 390.2 L311.3 378.5 L311.0 375.9 L311.0 371.2 L310.3 366.9 L309.9 362.3 L309.4 359.9 L307.8 357.4 L305.4 354.8 L300.0 349.8 L298.4 347.5 L297.7 345.4 L297.5 343.6 L298.4 344.1 L301.2 349.5 L305.5 357.0 L311.1 364.7 L319.6 372.2 L329.4 379.7 L338.1 387.2 L345.4 394.7 L351.6 402.4 L357.0 410.0 L361.8 417.7 L375.0 440.9 L380.4 448.7 L387.0 456.5 L392.9 462.6' stroke='#0000ff' stroke-dasharray='1.1 1.05'/>
</g>
<rect x='256.4' y='296.2' width='247.40' height='238.00' fill='none' stroke='#000' stroke-width='0.8'/>
<line x1='285.90' y1='534.2' x2='285.90' y2='536.6' stroke='#000' stroke-width='0.8'/>
<text x='276.61' y='545.80' font-size='8.80' textLength='18.57' lengthAdjust='spacingAndGlyphs'>−75</text>
<line x1='318.10' y1='534.2' x2='318.10' y2='536.6' stroke='#000' stroke-width='0.8'/>
<text x='308.81' y='545.80' font-size='8.80' textLength='18.57' lengthAdjust='spacingAndGlyphs'>−50</text>
<line x1='350.30' y1='534.2' x2='350.30' y2='536.6' stroke='#000' stroke-width='0.8'/>
<text x='341.01' y='545.80' font-size='8.80' textLength='18.57' lengthAdjust='spacingAndGlyphs'>−25</text>
<line x1='382.50' y1='534.2' x2='382.50' y2='536.6' stroke='#000' stroke-width='0.8'/>
<text x='379.70' y='545.80' font-size='8.80' textLength='5.60' lengthAdjust='spacingAndGlyphs'>0</text>
<line x1='414.70' y1='534.2' x2='414.70' y2='536.6' stroke='#000' stroke-width='0.8'/>
<text x='409.10' y='545.80' font-size='8.80' textLength='11.20' lengthAdjust='spacingAndGlyphs'>25</text>
<line x1='446.90' y1='534.2' x2='446.90' y2='536.6' stroke='#000' stroke-width='0.8'/>
<text x='441.30' y='545.80' font-size='8.80' textLength='11.20' lengthAdjust='spacingAndGlyphs'>50</text>
<line x1='479.10' y1='534.2' x2='479.10' y2='536.6' stroke='#000' stroke-width='0.8'/>
<text x='473.50' y='545.80' font-size='8.80' textLength='11.20' lengthAdjust='spacingAndGlyphs'>75</text>
<line x1='253.99999999999997' y1='325.00' x2='256.4' y2='325.00' stroke='#000' stroke-width='0.8'/>
<text x='235.94' y='328.15' font-size='8.80' textLength='16.46' lengthAdjust='spacingAndGlyphs'>100</text>
<line x1='253.99999999999997' y1='363.80' x2='256.4' y2='363.80' stroke='#000' stroke-width='0.8'/>
<text x='241.43' y='366.95' font-size='8.80' textLength='10.97' lengthAdjust='spacingAndGlyphs'>50</text>
<line x1='253.99999999999997' y1='402.60' x2='256.4' y2='402.60' stroke='#000' stroke-width='0.8'/>
<text x='246.91' y='405.75' font-size='8.80' textLength='5.49' lengthAdjust='spacingAndGlyphs'>0</text>
<line x1='253.99999999999997' y1='441.40' x2='256.4' y2='441.40' stroke='#000' stroke-width='0.8'/>
<text x='234.20' y='444.55' font-size='8.80' textLength='18.20' lengthAdjust='spacingAndGlyphs'>−50</text>
<line x1='253.99999999999997' y1='480.20' x2='256.4' y2='480.20' stroke='#000' stroke-width='0.8'/>
<text x='228.71' y='483.35' font-size='8.80' textLength='23.69' lengthAdjust='spacingAndGlyphs'>−100</text>
<line x1='253.99999999999997' y1='519.00' x2='256.4' y2='519.00' stroke='#000' stroke-width='0.8'/>
<text x='228.71' y='522.15' font-size='8.80' textLength='23.69' lengthAdjust='spacingAndGlyphs'>−150</text>
<text x='355.39' y='555.90' font-size='8.80' textLength='18.38' lengthAdjust='spacingAndGlyphs'>COP</text>
<text x='373.87' y='557.40' font-size='6.16' font-style='italic' textLength='4.23' lengthAdjust='spacingAndGlyphs'>X</text>
<text x='380.80' y='555.90' font-size='8.80' textLength='24.01' lengthAdjust='spacingAndGlyphs'>[mm]</text>
<g transform='translate(223.60,415.20) rotate(-90)'>
<text x='-24.48' y='0.00' font-size='8.80' textLength='18.38' lengthAdjust='spacingAndGlyphs'>COP</text>
<text x='-6.00' y='1.50' font-size='6.16' font-style='italic' textLength='3.77' lengthAdjust='spacingAndGlyphs'>Y</text>
<text x='0.47' y='0.00' font-size='8.80' textLength='24.01' lengthAdjust='spacingAndGlyphs'>[mm]</text>
</g>
<rect x='343.4' y='501.5' width='73.3' height='28.4' rx='1.8' fill='#fff' fill-opacity='0.8' stroke='#cccccc' stroke-width='0.8'/>
<line x1='345.9' y1='508.5' x2='365.0' y2='508.5' stroke='#ff0000' stroke-width='1.3'/>
<line x1='345.9' y1='521.5' x2='365.0' y2='521.5' stroke='#0000ff' stroke-width='1.3' stroke-dasharray='1.1 1.05'/>
<text x='371.50' y='511.67' font-size='8.80' textLength='27.72' lengthAdjust='spacingAndGlyphs'>Actual</text>
<text x='371.50' y='524.67' font-size='8.80' textLength='41.66' lengthAdjust='spacingAndGlyphs'>Predicted</text>
<text x='175.9' y='274.6' text-anchor='middle' font-size='15.5' style='stroke:none' font-family="Liberation Serif, serif">(<tspan font-weight='bold'>a</tspan>)</text>
<text x='547.3' y='274.6' text-anchor='middle' font-size='15.5' style='stroke:none' font-family="Liberation Serif, serif">(<tspan font-weight='bold'>b</tspan>)</text>
<text x='360.0' y='588.4' text-anchor='middle' font-size='15.5' style='stroke:none' font-family="Liberation Serif, serif">(<tspan font-weight='bold'>c</tspan>)</text>
</svg>
</body></html>
